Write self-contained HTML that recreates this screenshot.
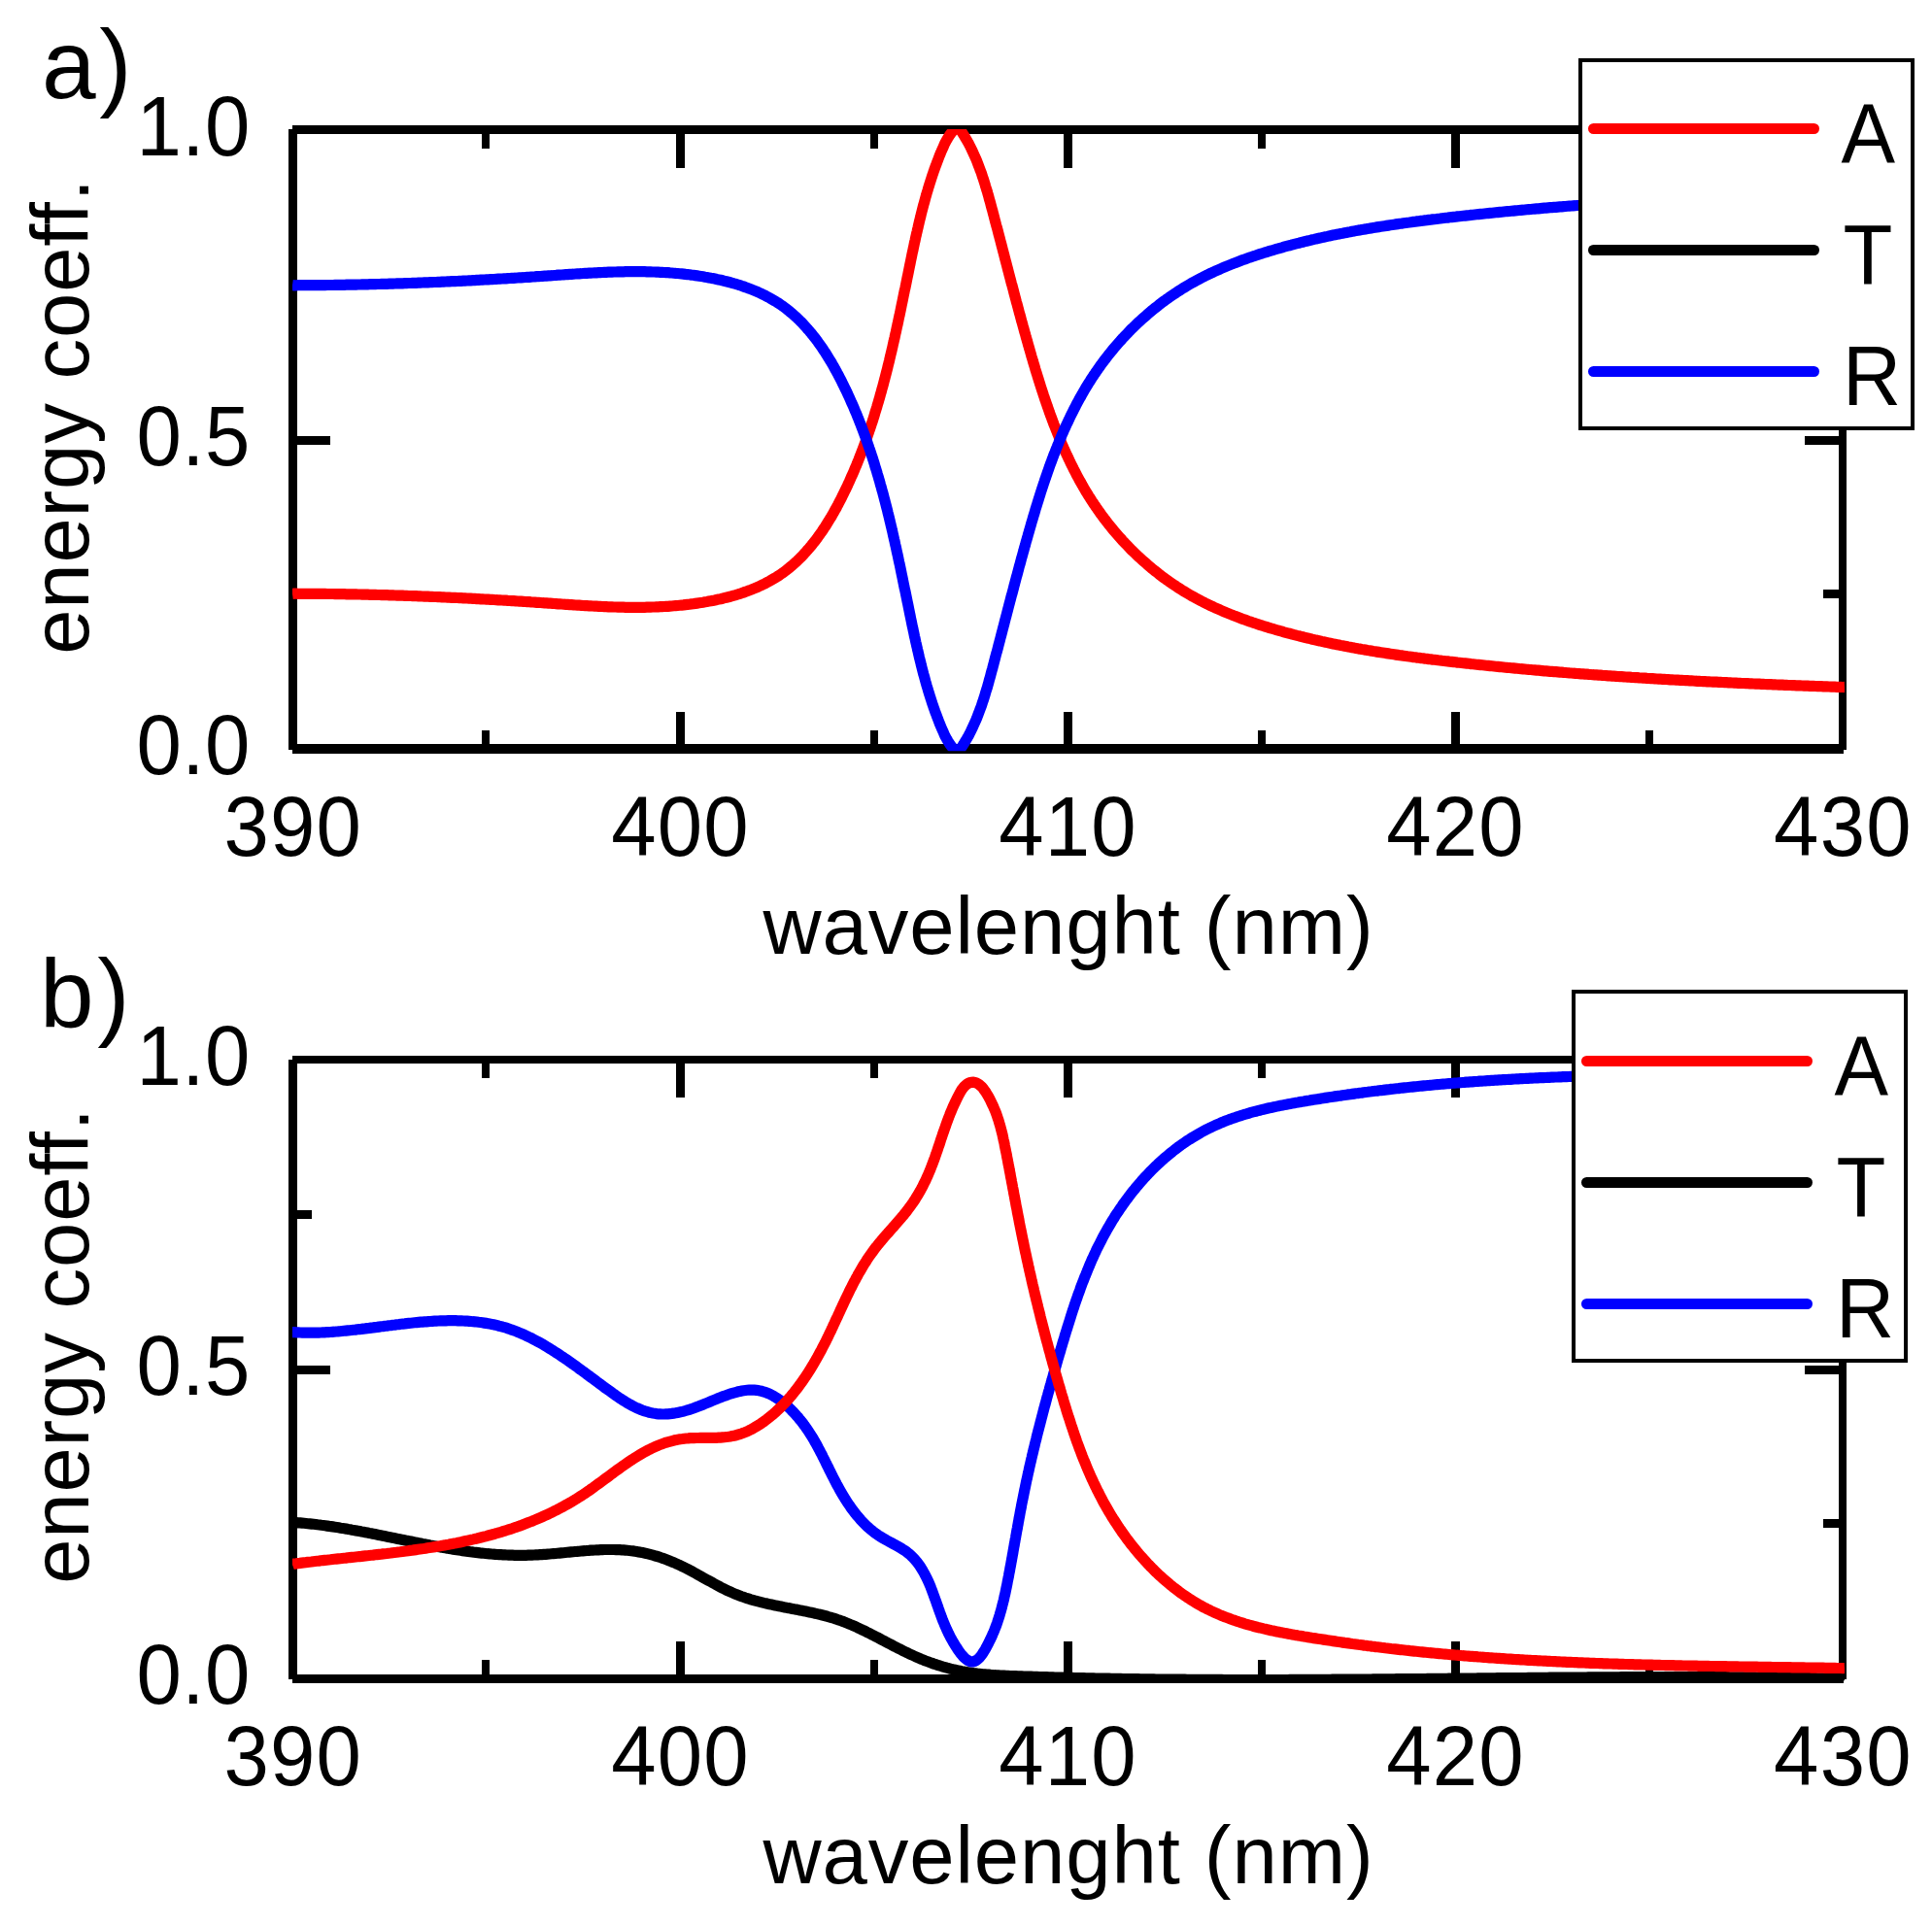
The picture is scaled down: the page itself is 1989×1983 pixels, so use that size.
<!DOCTYPE html>
<html lang="en">
<head>
<meta charset="utf-8">
<title>Energy coefficients vs wavelength</title>
<style>
html,body{margin:0;padding:0;background:#fff;}
body{width:1989px;height:1983px;overflow:hidden;}
svg{display:block;font-family:"Liberation Sans", sans-serif;fill:#000;}
</style>
</head>
<body>
<svg width="1989" height="1983" viewBox="0 0 1989 1983">
<rect width="1989" height="1983" fill="#fff"/>
<g fill="#000" shape-rendering="crispEdges">
<rect x="301" y="129" width="1597" height="9"/>
<rect x="301" y="766" width="1597" height="10"/>
<rect x="297" y="133" width="9" height="639"/>
<rect x="1893" y="133" width="8" height="639"/>
<rect x="696" y="733" width="9" height="38.5"/>
<rect x="696" y="133.5" width="9" height="39.5"/>
<rect x="1095" y="733" width="9" height="38.5"/>
<rect x="1095" y="133.5" width="9" height="39.5"/>
<rect x="1494" y="733" width="9" height="38.5"/>
<rect x="1494" y="133.5" width="9" height="39.5"/>
<rect x="496" y="752" width="8" height="19.5"/>
<rect x="496" y="133.5" width="8" height="19.5"/>
<rect x="896" y="752" width="8" height="19.5"/>
<rect x="896" y="133.5" width="8" height="19.5"/>
<rect x="1295" y="752" width="8" height="19.5"/>
<rect x="1295" y="133.5" width="8" height="19.5"/>
<rect x="1694" y="752" width="8" height="19.5"/>
<rect x="1694" y="133.5" width="8" height="19.5"/>
<rect x="301" y="289" width="20" height="9"/>
<rect x="1877" y="289" width="20" height="9"/>
<rect x="301" y="449" width="39" height="9"/>
<rect x="1858" y="449" width="39" height="9"/>
<rect x="301" y="607" width="20" height="9"/>
<rect x="1877" y="607" width="20" height="9"/>
</g>
<clipPath id="clipa"><rect x="301" y="133" width="1598" height="640.3"/></clipPath>
<g clip-path="url(#clipa)" fill="none" stroke-width="11.2" stroke-linejoin="miter" stroke-miterlimit="3" stroke-linecap="butt">
<path stroke="#ff0000" d="M301.0,611.5 L303.1,611.2 L305.0,611.2 L307.0,611.3 L309.0,611.3 L311.0,611.3 L313.0,611.3 L315.0,611.3 L316.9,611.3 L318.9,611.3 L320.9,611.3 L322.9,611.3 L324.9,611.3 L326.9,611.4 L328.9,611.4 L330.9,611.4 L332.8,611.4 L334.8,611.4 L336.8,611.5 L338.8,611.5 L340.8,611.5 L342.8,611.5 L344.8,611.6 L346.8,611.6 L348.8,611.6 L350.8,611.7 L352.8,611.7 L354.8,611.7 L356.7,611.8 L358.7,611.8 L360.7,611.8 L362.7,611.9 L364.7,611.9 L366.7,611.9 L368.7,612.0 L370.7,612.0 L372.7,612.1 L374.7,612.1 L376.7,612.2 L378.7,612.2 L380.7,612.3 L382.7,612.3 L384.7,612.4 L386.7,612.4 L388.7,612.5 L390.7,612.5 L392.7,612.6 L394.7,612.6 L396.7,612.7 L398.7,612.7 L400.7,612.8 L402.7,612.9 L404.7,612.9 L406.7,613.0 L408.7,613.1 L410.7,613.1 L412.7,613.2 L414.7,613.2 L416.7,613.3 L418.7,613.4 L420.7,613.5 L422.7,613.5 L424.7,613.6 L426.7,613.7 L428.7,613.7 L430.7,613.8 L432.7,613.9 L434.7,614.0 L436.7,614.1 L438.7,614.1 L440.7,614.2 L442.8,614.3 L444.8,614.4 L446.8,614.5 L448.8,614.5 L450.8,614.6 L452.8,614.7 L454.8,614.8 L456.8,614.9 L458.8,615.0 L460.8,615.1 L462.8,615.2 L464.8,615.3 L466.8,615.4 L468.8,615.4 L470.8,615.5 L472.8,615.6 L474.8,615.7 L476.8,615.8 L478.8,615.9 L480.8,616.0 L482.8,616.1 L484.8,616.2 L486.8,616.3 L488.8,616.4 L490.8,616.6 L492.8,616.7 L494.8,616.8 L496.8,616.9 L498.8,617.0 L500.8,617.1 L502.8,617.2 L504.8,617.3 L506.8,617.4 L508.8,617.5 L510.8,617.7 L512.8,617.8 L514.8,617.9 L516.8,618.0 L518.8,618.1 L520.8,618.2 L522.8,618.4 L524.8,618.5 L526.8,618.6 L528.8,618.7 L530.8,618.8 L532.8,619.0 L534.7,619.1 L536.7,619.2 L538.7,619.3 L540.7,619.5 L542.7,619.6 L544.7,619.7 L546.7,619.9 L548.7,620.0 L550.7,620.1 L552.7,620.3 L554.7,620.4 L556.7,620.5 L558.6,620.7 L560.6,620.8 L562.6,620.9 L564.6,621.1 L566.6,621.2 L568.6,621.3 L570.6,621.5 L572.5,621.6 L574.5,621.8 L576.5,621.9 L578.5,622.0 L580.5,622.2 L582.5,622.3 L584.5,622.4 L586.4,622.6 L588.4,622.7 L590.4,622.8 L592.4,623.0 L594.4,623.1 L596.4,623.2 L598.3,623.3 L600.3,623.5 L602.3,623.6 L604.3,623.7 L606.3,623.8 L608.2,623.9 L610.2,624.0 L612.2,624.1 L614.2,624.2 L616.2,624.3 L618.2,624.4 L620.1,624.5 L622.1,624.6 L624.1,624.7 L626.1,624.8 L628.1,624.8 L630.0,624.9 L632.0,625.0 L634.0,625.0 L636.0,625.1 L638.0,625.1 L640.0,625.2 L641.9,625.2 L643.9,625.3 L645.9,625.3 L647.9,625.3 L649.9,625.3 L651.9,625.3 L653.9,625.3 L655.8,625.3 L657.8,625.3 L659.8,625.3 L661.8,625.3 L663.8,625.3 L665.8,625.2 L667.8,625.2 L669.8,625.1 L671.8,625.0 L673.7,625.0 L675.7,624.9 L677.7,624.8 L679.7,624.7 L681.7,624.6 L683.7,624.5 L685.7,624.4 L687.7,624.3 L689.7,624.1 L691.7,624.0 L693.7,623.8 L695.7,623.6 L697.7,623.5 L699.7,623.3 L701.7,623.1 L703.7,622.9 L705.7,622.6 L707.7,622.4 L709.7,622.2 L711.7,621.9 L713.7,621.7 L715.7,621.4 L717.8,621.1 L719.8,620.8 L721.8,620.5 L723.8,620.2 L725.8,619.8 L727.8,619.5 L729.8,619.1 L731.8,618.7 L733.8,618.4 L735.8,618.0 L737.8,617.5 L739.8,617.1 L741.8,616.7 L743.8,616.2 L745.7,615.7 L747.7,615.2 L749.7,614.7 L751.7,614.2 L753.6,613.7 L755.6,613.1 L757.5,612.6 L759.4,612.0 L761.4,611.4 L763.3,610.7 L765.2,610.1 L767.1,609.4 L769.0,608.8 L770.9,608.1 L772.7,607.4 L774.6,606.6 L776.4,605.9 L778.3,605.1 L780.1,604.3 L781.9,603.5 L783.7,602.7 L785.5,601.8 L787.3,600.9 L789.0,600.0 L790.8,599.1 L792.5,598.2 L794.2,597.2 L795.9,596.2 L797.6,595.2 L799.2,594.2 L800.9,593.2 L802.5,592.1 L804.1,591.0 L805.7,589.9 L807.3,588.7 L808.9,587.6 L810.4,586.4 L811.9,585.2 L813.4,583.9 L814.9,582.7 L816.4,581.4 L817.8,580.1 L819.3,578.8 L820.7,577.5 L822.1,576.1 L823.5,574.7 L824.9,573.4 L826.3,572.0 L827.6,570.5 L828.9,569.1 L830.2,567.6 L831.5,566.1 L832.8,564.7 L834.1,563.1 L835.4,561.6 L836.6,560.1 L837.8,558.5 L839.1,557.0 L840.3,555.4 L841.5,553.8 L842.6,552.2 L843.8,550.5 L844.9,548.9 L846.1,547.3 L847.2,545.6 L848.3,543.9 L849.4,542.3 L850.5,540.6 L851.6,538.9 L852.6,537.2 L853.7,535.4 L854.7,533.7 L855.8,532.0 L856.8,530.2 L857.8,528.5 L858.8,526.7 L859.8,524.9 L860.8,523.2 L861.7,521.4 L862.7,519.6 L863.6,517.8 L864.6,516.0 L865.5,514.2 L866.4,512.4 L867.3,510.6 L868.2,508.8 L869.1,506.9 L870.0,505.1 L870.9,503.3 L871.7,501.5 L872.6,499.6 L873.4,497.8 L874.3,496.0 L875.1,494.1 L875.9,492.3 L876.7,490.4 L877.6,488.6 L878.4,486.8 L879.2,484.9 L879.9,483.1 L880.7,481.2 L881.5,479.4 L882.3,477.5 L883.0,475.7 L883.8,473.8 L884.5,471.9 L885.2,470.1 L886.0,468.2 L886.7,466.4 L887.4,464.5 L888.1,462.6 L888.8,460.8 L889.5,458.9 L890.2,457.0 L890.9,455.1 L891.5,453.3 L892.2,451.4 L892.9,449.5 L893.5,447.6 L894.2,445.7 L894.8,443.8 L895.5,442.0 L896.1,440.1 L896.7,438.2 L897.3,436.3 L898.0,434.4 L898.6,432.5 L899.2,430.6 L899.8,428.7 L900.4,426.8 L900.9,424.9 L901.5,423.0 L902.1,421.1 L902.7,419.2 L903.2,417.3 L903.8,415.4 L904.4,413.5 L904.9,411.6 L905.5,409.7 L906.0,407.8 L906.5,405.8 L907.1,403.9 L907.6,402.0 L908.1,400.1 L908.7,398.2 L909.2,396.3 L909.7,394.3 L910.2,392.4 L910.7,390.5 L911.2,388.6 L911.7,386.6 L912.2,384.7 L912.7,382.8 L913.2,380.8 L913.7,378.9 L914.1,377.0 L914.6,375.1 L915.1,373.1 L915.6,371.2 L916.0,369.2 L916.5,367.3 L916.9,365.4 L917.4,363.4 L917.9,361.5 L918.3,359.6 L918.8,357.6 L919.2,355.7 L919.6,353.7 L920.1,351.8 L920.5,349.8 L921.0,347.9 L921.4,345.9 L921.8,344.0 L922.3,342.0 L922.7,340.1 L923.1,338.1 L923.5,336.2 L924.0,334.2 L924.4,332.3 L924.8,330.3 L925.2,328.4 L925.6,326.4 L926.1,324.5 L926.5,322.5 L926.9,320.6 L927.3,318.6 L927.7,316.6 L928.1,314.7 L928.5,312.7 L928.9,310.8 L929.3,308.8 L929.7,306.8 L930.1,304.9 L930.5,302.9 L930.9,301.0 L931.3,299.0 L931.8,297.0 L932.2,295.1 L932.6,293.1 L933.0,291.1 L933.4,289.2 L933.8,287.2 L934.2,285.2 L934.6,283.3 L935.0,281.3 L935.4,279.3 L935.8,277.4 L936.2,275.4 L936.6,273.4 L937.0,271.5 L937.4,269.5 L937.8,267.5 L938.2,265.6 L938.6,263.6 L939.0,261.6 L939.4,259.7 L939.9,257.7 L940.3,255.7 L940.7,253.8 L941.1,251.8 L941.5,249.8 L942.0,247.9 L942.4,245.9 L942.8,243.9 L943.3,242.0 L943.7,240.0 L944.2,238.1 L944.6,236.1 L945.1,234.2 L945.5,232.2 L946.0,230.2 L946.4,228.3 L946.9,226.4 L947.4,224.4 L947.9,222.5 L948.3,220.5 L948.8,218.6 L949.3,216.6 L949.8,214.7 L950.3,212.8 L950.8,210.8 L951.4,208.9 L951.9,207.0 L952.4,205.1 L952.9,203.2 L953.5,201.2 L954.0,199.3 L954.6,197.4 L955.2,195.5 L955.7,193.6 L956.3,191.7 L956.9,189.8 L957.5,187.9 L958.1,186.0 L958.7,184.1 L959.3,182.2 L959.9,180.4 L960.6,178.5 L961.2,176.6 L961.9,174.7 L962.5,172.9 L963.2,171.0 L963.9,169.2 L964.6,167.3 L965.3,165.5 L966.0,163.6 L966.7,161.8 L967.4,159.9 L968.2,158.1 L968.9,156.3 L969.7,154.5 L970.5,152.7 L971.3,150.9 L972.1,149.1 L972.9,147.3 L973.8,145.6 L974.8,143.8 L975.8,142.1 L976.8,140.5 L977.9,138.8 L979.1,137.2 L980.3,135.6 L981.6,134.1 L983.0,132.6 L985.1,131.5 L987.7,132.2 L988.8,133.9 L989.9,135.5 L991.0,137.2 L992.1,138.9 L993.1,140.6 L994.1,142.3 L995.1,144.0 L996.1,145.8 L997.1,147.5 L998.0,149.3 L998.9,151.0 L999.8,152.8 L1000.6,154.6 L1001.5,156.4 L1002.3,158.2 L1003.1,160.0 L1003.9,161.8 L1004.7,163.6 L1005.5,165.4 L1006.2,167.3 L1006.9,169.1 L1007.6,171.0 L1008.3,172.8 L1009.0,174.7 L1009.7,176.5 L1010.4,178.4 L1011.0,180.3 L1011.6,182.2 L1012.3,184.1 L1012.9,186.0 L1013.5,187.9 L1014.1,189.8 L1014.6,191.7 L1015.2,193.6 L1015.8,195.5 L1016.4,197.4 L1016.9,199.3 L1017.5,201.2 L1018.0,203.2 L1018.5,205.1 L1019.1,207.0 L1019.6,208.9 L1020.1,210.9 L1020.6,212.8 L1021.1,214.7 L1021.7,216.6 L1022.2,218.6 L1022.7,220.5 L1023.2,222.4 L1023.7,224.4 L1024.2,226.3 L1024.7,228.2 L1025.2,230.1 L1025.7,232.1 L1026.3,234.0 L1026.8,235.9 L1027.3,237.8 L1027.8,239.8 L1028.3,241.7 L1028.8,243.6 L1029.3,245.5 L1029.8,247.5 L1030.3,249.4 L1030.8,251.3 L1031.3,253.2 L1031.8,255.2 L1032.3,257.1 L1032.8,259.0 L1033.3,260.9 L1033.8,262.8 L1034.3,264.8 L1034.8,266.7 L1035.3,268.6 L1035.8,270.5 L1036.3,272.4 L1036.8,274.4 L1037.3,276.3 L1037.8,278.2 L1038.3,280.1 L1038.8,282.1 L1039.3,284.0 L1039.8,285.9 L1040.3,287.8 L1040.8,289.7 L1041.3,291.7 L1041.9,293.6 L1042.4,295.5 L1042.9,297.4 L1043.4,299.3 L1043.9,301.3 L1044.4,303.2 L1044.9,305.1 L1045.4,307.0 L1045.9,308.9 L1046.4,310.9 L1047.0,312.8 L1047.5,314.7 L1048.0,316.6 L1048.5,318.5 L1049.0,320.5 L1049.5,322.4 L1050.1,324.3 L1050.6,326.2 L1051.1,328.2 L1051.6,330.1 L1052.2,332.0 L1052.7,333.9 L1053.2,335.8 L1053.8,337.8 L1054.3,339.7 L1054.8,341.6 L1055.4,343.5 L1055.9,345.5 L1056.4,347.4 L1057.0,349.3 L1057.5,351.2 L1058.1,353.2 L1058.6,355.1 L1059.2,357.0 L1059.7,358.9 L1060.3,360.9 L1060.8,362.8 L1061.4,364.7 L1061.9,366.7 L1062.5,368.6 L1063.1,370.5 L1063.6,372.4 L1064.2,374.4 L1064.8,376.3 L1065.4,378.2 L1065.9,380.2 L1066.5,382.1 L1067.1,384.0 L1067.7,385.9 L1068.3,387.9 L1068.9,389.8 L1069.5,391.7 L1070.1,393.6 L1070.7,395.5 L1071.3,397.5 L1071.9,399.4 L1072.5,401.3 L1073.2,403.2 L1073.8,405.1 L1074.4,407.0 L1075.1,409.0 L1075.7,410.9 L1076.4,412.8 L1077.0,414.7 L1077.7,416.6 L1078.3,418.5 L1079.0,420.4 L1079.7,422.3 L1080.3,424.2 L1081.0,426.1 L1081.7,428.0 L1082.4,429.8 L1083.1,431.7 L1083.8,433.6 L1084.5,435.5 L1085.2,437.4 L1086.0,439.2 L1086.7,441.1 L1087.4,443.0 L1088.2,444.8 L1088.9,446.7 L1089.7,448.5 L1090.4,450.4 L1091.2,452.3 L1092.0,454.1 L1092.7,455.9 L1093.5,457.8 L1094.3,459.6 L1095.1,461.4 L1095.9,463.3 L1096.8,465.1 L1097.6,466.9 L1098.4,468.7 L1099.3,470.5 L1100.1,472.3 L1101.0,474.1 L1101.8,475.9 L1102.7,477.7 L1103.6,479.5 L1104.5,481.3 L1105.4,483.1 L1106.3,484.8 L1107.2,486.6 L1108.1,488.4 L1109.0,490.1 L1110.0,491.9 L1110.9,493.6 L1111.9,495.4 L1112.9,497.1 L1113.8,498.8 L1114.8,500.5 L1115.8,502.3 L1116.8,504.0 L1117.8,505.7 L1118.9,507.4 L1119.9,509.1 L1120.9,510.8 L1122.0,512.4 L1123.1,514.1 L1124.1,515.8 L1125.2,517.4 L1126.3,519.1 L1127.4,520.7 L1128.5,522.4 L1129.7,524.0 L1130.8,525.6 L1132.0,527.3 L1133.1,528.9 L1134.3,530.5 L1135.5,532.1 L1136.7,533.7 L1137.9,535.2 L1139.1,536.8 L1140.3,538.4 L1141.5,539.9 L1142.8,541.5 L1144.0,543.0 L1145.3,544.6 L1146.5,546.1 L1147.8,547.6 L1149.1,549.1 L1150.4,550.6 L1151.7,552.1 L1153.0,553.6 L1154.4,555.1 L1155.7,556.6 L1157.1,558.0 L1158.4,559.5 L1159.8,560.9 L1161.2,562.3 L1162.5,563.8 L1163.9,565.2 L1165.3,566.6 L1166.8,568.0 L1168.2,569.4 L1169.6,570.8 L1171.0,572.1 L1172.5,573.5 L1174.0,574.8 L1175.4,576.2 L1176.9,577.5 L1178.4,578.8 L1179.9,580.1 L1181.4,581.4 L1182.9,582.7 L1184.4,584.0 L1185.9,585.3 L1187.5,586.5 L1189.0,587.8 L1190.6,589.0 L1192.1,590.2 L1193.7,591.5 L1195.3,592.7 L1196.9,593.9 L1198.5,595.1 L1200.1,596.2 L1201.7,597.4 L1203.3,598.5 L1204.9,599.7 L1206.6,600.8 L1208.2,601.9 L1209.9,603.0 L1211.5,604.1 L1213.2,605.2 L1214.9,606.3 L1216.6,607.4 L1218.2,608.4 L1219.9,609.4 L1221.7,610.5 L1223.4,611.5 L1225.1,612.5 L1226.8,613.5 L1228.6,614.4 L1230.3,615.4 L1232.1,616.4 L1233.8,617.3 L1235.6,618.2 L1237.3,619.1 L1239.1,620.1 L1240.9,621.0 L1242.7,621.8 L1244.5,622.7 L1246.3,623.6 L1248.1,624.4 L1249.9,625.3 L1251.7,626.1 L1253.6,626.9 L1255.4,627.7 L1257.2,628.5 L1259.1,629.3 L1260.9,630.1 L1262.8,630.9 L1264.6,631.6 L1266.5,632.4 L1268.4,633.1 L1270.2,633.9 L1272.1,634.6 L1274.0,635.3 L1275.9,636.0 L1277.7,636.7 L1279.6,637.4 L1281.5,638.1 L1283.4,638.8 L1285.3,639.5 L1287.2,640.1 L1289.1,640.8 L1291.0,641.4 L1293.0,642.0 L1294.9,642.7 L1296.8,643.3 L1298.7,643.9 L1300.6,644.5 L1302.5,645.1 L1304.5,645.7 L1306.4,646.3 L1308.3,646.9 L1310.3,647.4 L1312.2,648.0 L1314.1,648.6 L1316.1,649.1 L1318.0,649.7 L1319.9,650.2 L1321.9,650.8 L1323.8,651.3 L1325.7,651.8 L1327.7,652.3 L1329.6,652.8 L1331.6,653.4 L1333.5,653.9 L1335.4,654.4 L1337.4,654.8 L1339.3,655.3 L1341.3,655.8 L1343.2,656.3 L1345.2,656.8 L1347.1,657.2 L1349.0,657.7 L1351.0,658.2 L1352.9,658.6 L1354.9,659.1 L1356.8,659.5 L1358.8,659.9 L1360.7,660.4 L1362.7,660.8 L1364.6,661.2 L1366.6,661.6 L1368.5,662.1 L1370.5,662.5 L1372.4,662.9 L1374.4,663.3 L1376.4,663.7 L1378.3,664.1 L1380.3,664.5 L1382.2,664.8 L1384.2,665.2 L1386.1,665.6 L1388.1,666.0 L1390.0,666.3 L1392.0,666.7 L1394.0,667.1 L1395.9,667.4 L1397.9,667.8 L1399.8,668.1 L1401.8,668.5 L1403.8,668.8 L1405.7,669.1 L1407.7,669.5 L1409.7,669.8 L1411.6,670.1 L1413.6,670.5 L1415.6,670.8 L1417.5,671.1 L1419.5,671.4 L1421.5,671.7 L1423.4,672.0 L1425.4,672.3 L1427.4,672.6 L1429.3,672.9 L1431.3,673.2 L1433.3,673.5 L1435.2,673.8 L1437.2,674.1 L1439.2,674.4 L1441.1,674.7 L1443.1,674.9 L1445.1,675.2 L1447.1,675.5 L1449.0,675.8 L1451.0,676.0 L1453.0,676.3 L1454.9,676.6 L1456.9,676.8 L1458.9,677.1 L1460.9,677.3 L1462.8,677.6 L1464.8,677.8 L1466.8,678.1 L1468.8,678.3 L1470.7,678.6 L1472.7,678.8 L1474.7,679.1 L1476.7,679.3 L1478.7,679.5 L1480.6,679.8 L1482.6,680.0 L1484.6,680.3 L1486.6,680.5 L1488.5,680.7 L1490.5,680.9 L1492.5,681.2 L1494.5,681.4 L1496.5,681.6 L1498.4,681.8 L1500.4,682.1 L1502.4,682.3 L1504.4,682.5 L1506.4,682.7 L1508.4,682.9 L1510.3,683.1 L1512.3,683.3 L1514.3,683.6 L1516.3,683.8 L1518.3,684.0 L1520.3,684.2 L1522.2,684.4 L1524.2,684.6 L1526.2,684.8 L1528.2,685.0 L1530.2,685.2 L1532.2,685.4 L1534.1,685.6 L1536.1,685.8 L1538.1,686.0 L1540.1,686.2 L1542.1,686.4 L1544.1,686.6 L1546.1,686.8 L1548.0,687.0 L1550.0,687.2 L1552.0,687.4 L1554.0,687.5 L1556.0,687.7 L1558.0,687.9 L1560.0,688.1 L1562.0,688.3 L1563.9,688.5 L1565.9,688.7 L1567.9,688.8 L1569.9,689.0 L1571.9,689.2 L1573.9,689.4 L1575.9,689.5 L1577.9,689.7 L1579.9,689.9 L1581.9,690.1 L1583.8,690.2 L1585.8,690.4 L1587.8,690.6 L1589.8,690.8 L1591.8,690.9 L1593.8,691.1 L1595.8,691.3 L1597.8,691.4 L1599.8,691.6 L1601.8,691.7 L1603.8,691.9 L1605.8,692.1 L1607.7,692.2 L1609.7,692.4 L1611.7,692.5 L1613.7,692.7 L1615.7,692.9 L1617.7,693.0 L1619.7,693.2 L1621.7,693.3 L1623.7,693.5 L1625.7,693.6 L1627.7,693.8 L1629.7,693.9 L1631.7,694.1 L1633.7,694.2 L1635.7,694.4 L1637.6,694.5 L1639.6,694.7 L1641.6,694.8 L1643.6,694.9 L1645.6,695.1 L1647.6,695.2 L1649.6,695.4 L1651.6,695.5 L1653.6,695.6 L1655.6,695.8 L1657.6,695.9 L1659.6,696.1 L1661.6,696.2 L1663.6,696.3 L1665.6,696.5 L1667.6,696.6 L1669.6,696.7 L1671.6,696.8 L1673.6,697.0 L1675.6,697.1 L1677.6,697.2 L1679.5,697.4 L1681.5,697.5 L1683.5,697.6 L1685.5,697.7 L1687.5,697.9 L1689.5,698.0 L1691.5,698.1 L1693.5,698.2 L1695.5,698.4 L1697.5,698.5 L1699.5,698.6 L1701.5,698.7 L1703.5,698.8 L1705.5,699.0 L1707.5,699.1 L1709.5,699.2 L1711.5,699.3 L1713.5,699.4 L1715.5,699.5 L1717.5,699.6 L1719.5,699.8 L1721.5,699.9 L1723.5,700.0 L1725.5,700.1 L1727.5,700.2 L1729.5,700.3 L1731.5,700.4 L1733.5,700.5 L1735.4,700.6 L1737.4,700.7 L1739.4,700.8 L1741.4,700.9 L1743.4,701.0 L1745.4,701.2 L1747.4,701.3 L1749.4,701.4 L1751.4,701.5 L1753.4,701.6 L1755.4,701.7 L1757.4,701.8 L1759.4,701.9 L1761.4,702.0 L1763.4,702.1 L1765.4,702.2 L1767.4,702.2 L1769.4,702.3 L1771.4,702.4 L1773.4,702.5 L1775.4,702.6 L1777.4,702.7 L1779.4,702.8 L1781.4,702.9 L1783.4,703.0 L1785.4,703.1 L1787.4,703.2 L1789.4,703.3 L1791.3,703.4 L1793.3,703.5 L1795.3,703.5 L1797.3,703.6 L1799.3,703.7 L1801.3,703.8 L1803.3,703.9 L1805.3,704.0 L1807.3,704.1 L1809.3,704.1 L1811.3,704.2 L1813.3,704.3 L1815.3,704.4 L1817.3,704.5 L1819.3,704.6 L1821.3,704.7 L1823.3,704.7 L1825.3,704.8 L1827.3,704.9 L1829.2,705.0 L1831.2,705.1 L1833.2,705.1 L1835.2,705.2 L1837.2,705.3 L1839.2,705.4 L1841.2,705.5 L1843.2,705.5 L1845.2,705.6 L1847.2,705.7 L1849.2,705.8 L1851.2,705.8 L1853.2,705.9 L1855.2,706.0 L1857.1,706.1 L1859.1,706.1 L1861.1,706.2 L1863.1,706.3 L1865.1,706.4 L1867.1,706.4 L1869.1,706.5 L1871.1,706.6 L1873.1,706.6 L1875.1,706.7 L1877.1,706.8 L1879.0,706.9 L1881.0,706.9 L1883.0,707.0 L1885.0,707.1 L1887.0,707.1 L1889.0,707.2 L1891.0,707.3 L1893.0,707.3 L1895.0,707.4 L1896.9,707.5 L1899.0,707.4"/>
<path stroke="#0000ff" d="M301.0,293.5 L303.1,293.8 L305.0,293.8 L307.0,293.7 L309.0,293.7 L311.0,293.7 L313.0,293.7 L315.0,293.7 L316.9,293.7 L318.9,293.7 L320.9,293.7 L322.9,293.7 L324.9,293.7 L326.9,293.6 L328.9,293.6 L330.9,293.6 L332.8,293.6 L334.8,293.6 L336.8,293.5 L338.8,293.5 L340.8,293.5 L342.8,293.5 L344.8,293.4 L346.8,293.4 L348.8,293.4 L350.8,293.3 L352.8,293.3 L354.8,293.3 L356.7,293.2 L358.7,293.2 L360.7,293.2 L362.7,293.1 L364.7,293.1 L366.7,293.1 L368.7,293.0 L370.7,293.0 L372.7,292.9 L374.7,292.9 L376.7,292.8 L378.7,292.8 L380.7,292.7 L382.7,292.7 L384.7,292.6 L386.7,292.6 L388.7,292.5 L390.7,292.5 L392.7,292.4 L394.7,292.4 L396.7,292.3 L398.7,292.3 L400.7,292.2 L402.7,292.1 L404.7,292.1 L406.7,292.0 L408.7,291.9 L410.7,291.9 L412.7,291.8 L414.7,291.8 L416.7,291.7 L418.7,291.6 L420.7,291.5 L422.7,291.5 L424.7,291.4 L426.7,291.3 L428.7,291.3 L430.7,291.2 L432.7,291.1 L434.7,291.0 L436.7,290.9 L438.7,290.9 L440.7,290.8 L442.8,290.7 L444.8,290.6 L446.8,290.5 L448.8,290.5 L450.8,290.4 L452.8,290.3 L454.8,290.2 L456.8,290.1 L458.8,290.0 L460.8,289.9 L462.8,289.8 L464.8,289.7 L466.8,289.6 L468.8,289.6 L470.8,289.5 L472.8,289.4 L474.8,289.3 L476.8,289.2 L478.8,289.1 L480.8,289.0 L482.8,288.9 L484.8,288.8 L486.8,288.7 L488.8,288.6 L490.8,288.4 L492.8,288.3 L494.8,288.2 L496.8,288.1 L498.8,288.0 L500.8,287.9 L502.8,287.8 L504.8,287.7 L506.8,287.6 L508.8,287.5 L510.8,287.3 L512.8,287.2 L514.8,287.1 L516.8,287.0 L518.8,286.9 L520.8,286.8 L522.8,286.6 L524.8,286.5 L526.8,286.4 L528.8,286.3 L530.8,286.2 L532.8,286.0 L534.7,285.9 L536.7,285.8 L538.7,285.7 L540.7,285.5 L542.7,285.4 L544.7,285.3 L546.7,285.1 L548.7,285.0 L550.7,284.9 L552.7,284.7 L554.7,284.6 L556.7,284.5 L558.6,284.3 L560.6,284.2 L562.6,284.1 L564.6,283.9 L566.6,283.8 L568.6,283.7 L570.6,283.5 L572.5,283.4 L574.5,283.2 L576.5,283.1 L578.5,283.0 L580.5,282.8 L582.5,282.7 L584.5,282.6 L586.4,282.4 L588.4,282.3 L590.4,282.2 L592.4,282.0 L594.4,281.9 L596.4,281.8 L598.3,281.7 L600.3,281.5 L602.3,281.4 L604.3,281.3 L606.3,281.2 L608.2,281.1 L610.2,281.0 L612.2,280.9 L614.2,280.8 L616.2,280.7 L618.2,280.6 L620.1,280.5 L622.1,280.4 L624.1,280.3 L626.1,280.2 L628.1,280.2 L630.0,280.1 L632.0,280.0 L634.0,280.0 L636.0,279.9 L638.0,279.9 L640.0,279.8 L641.9,279.8 L643.9,279.7 L645.9,279.7 L647.9,279.7 L649.9,279.7 L651.9,279.7 L653.9,279.7 L655.8,279.7 L657.8,279.7 L659.8,279.7 L661.8,279.7 L663.8,279.7 L665.8,279.8 L667.8,279.8 L669.8,279.9 L671.8,280.0 L673.7,280.0 L675.7,280.1 L677.7,280.2 L679.7,280.3 L681.7,280.4 L683.7,280.5 L685.7,280.6 L687.7,280.7 L689.7,280.9 L691.7,281.0 L693.7,281.2 L695.7,281.4 L697.7,281.5 L699.7,281.7 L701.7,281.9 L703.7,282.1 L705.7,282.4 L707.7,282.6 L709.7,282.8 L711.7,283.1 L713.7,283.3 L715.7,283.6 L717.8,283.9 L719.8,284.2 L721.8,284.5 L723.8,284.8 L725.8,285.2 L727.8,285.5 L729.8,285.9 L731.8,286.3 L733.8,286.6 L735.8,287.0 L737.8,287.5 L739.8,287.9 L741.8,288.3 L743.8,288.8 L745.7,289.3 L747.7,289.8 L749.7,290.3 L751.7,290.8 L753.6,291.3 L755.6,291.9 L757.5,292.4 L759.4,293.0 L761.4,293.6 L763.3,294.3 L765.2,294.9 L767.1,295.6 L769.0,296.2 L770.9,296.9 L772.7,297.6 L774.6,298.4 L776.4,299.1 L778.3,299.9 L780.1,300.7 L781.9,301.5 L783.7,302.3 L785.5,303.2 L787.3,304.1 L789.0,305.0 L790.8,305.9 L792.5,306.8 L794.2,307.8 L795.9,308.8 L797.6,309.8 L799.2,310.8 L800.9,311.8 L802.5,312.9 L804.1,314.0 L805.7,315.1 L807.3,316.3 L808.9,317.4 L810.4,318.6 L811.9,319.8 L813.4,321.1 L814.9,322.3 L816.4,323.6 L817.8,324.9 L819.3,326.2 L820.7,327.5 L822.1,328.9 L823.5,330.3 L824.9,331.6 L826.3,333.0 L827.6,334.5 L828.9,335.9 L830.2,337.4 L831.5,338.9 L832.8,340.3 L834.1,341.9 L835.4,343.4 L836.6,344.9 L837.8,346.5 L839.1,348.0 L840.3,349.6 L841.5,351.2 L842.6,352.8 L843.8,354.5 L844.9,356.1 L846.1,357.7 L847.2,359.4 L848.3,361.1 L849.4,362.7 L850.5,364.4 L851.6,366.1 L852.6,367.8 L853.7,369.6 L854.7,371.3 L855.8,373.0 L856.8,374.8 L857.8,376.5 L858.8,378.3 L859.8,380.1 L860.8,381.8 L861.7,383.6 L862.7,385.4 L863.6,387.2 L864.6,389.0 L865.5,390.8 L866.4,392.6 L867.3,394.4 L868.2,396.2 L869.1,398.1 L870.0,399.9 L870.9,401.7 L871.7,403.5 L872.6,405.4 L873.4,407.2 L874.3,409.0 L875.1,410.9 L875.9,412.7 L876.7,414.6 L877.6,416.4 L878.4,418.2 L879.2,420.1 L879.9,421.9 L880.7,423.8 L881.5,425.6 L882.3,427.5 L883.0,429.3 L883.8,431.2 L884.5,433.1 L885.2,434.9 L886.0,436.8 L886.7,438.6 L887.4,440.5 L888.1,442.4 L888.8,444.2 L889.5,446.1 L890.2,448.0 L890.9,449.9 L891.5,451.7 L892.2,453.6 L892.9,455.5 L893.5,457.4 L894.2,459.3 L894.8,461.2 L895.5,463.0 L896.1,464.9 L896.7,466.8 L897.3,468.7 L898.0,470.6 L898.6,472.5 L899.2,474.4 L899.8,476.3 L900.4,478.2 L900.9,480.1 L901.5,482.0 L902.1,483.9 L902.7,485.8 L903.2,487.7 L903.8,489.6 L904.4,491.5 L904.9,493.4 L905.5,495.3 L906.0,497.2 L906.5,499.2 L907.1,501.1 L907.6,503.0 L908.1,504.9 L908.7,506.8 L909.2,508.7 L909.7,510.7 L910.2,512.6 L910.7,514.5 L911.2,516.4 L911.7,518.4 L912.2,520.3 L912.7,522.2 L913.2,524.2 L913.7,526.1 L914.1,528.0 L914.6,529.9 L915.1,531.9 L915.6,533.8 L916.0,535.8 L916.5,537.7 L916.9,539.6 L917.4,541.6 L917.9,543.5 L918.3,545.4 L918.8,547.4 L919.2,549.3 L919.6,551.3 L920.1,553.2 L920.5,555.2 L921.0,557.1 L921.4,559.1 L921.8,561.0 L922.3,563.0 L922.7,564.9 L923.1,566.9 L923.5,568.8 L924.0,570.8 L924.4,572.7 L924.8,574.7 L925.2,576.6 L925.6,578.6 L926.1,580.5 L926.5,582.5 L926.9,584.4 L927.3,586.4 L927.7,588.4 L928.1,590.3 L928.5,592.3 L928.9,594.2 L929.3,596.2 L929.7,598.2 L930.1,600.1 L930.5,602.1 L930.9,604.0 L931.3,606.0 L931.8,608.0 L932.2,609.9 L932.6,611.9 L933.0,613.9 L933.4,615.8 L933.8,617.8 L934.2,619.8 L934.6,621.7 L935.0,623.7 L935.4,625.7 L935.8,627.6 L936.2,629.6 L936.6,631.6 L937.0,633.5 L937.4,635.5 L937.8,637.5 L938.2,639.4 L938.6,641.4 L939.0,643.4 L939.4,645.3 L939.9,647.3 L940.3,649.3 L940.7,651.2 L941.1,653.2 L941.5,655.2 L942.0,657.1 L942.4,659.1 L942.8,661.1 L943.3,663.0 L943.7,665.0 L944.2,666.9 L944.6,668.9 L945.1,670.8 L945.5,672.8 L946.0,674.8 L946.4,676.7 L946.9,678.6 L947.4,680.6 L947.9,682.5 L948.3,684.5 L948.8,686.4 L949.3,688.4 L949.8,690.3 L950.3,692.2 L950.8,694.2 L951.4,696.1 L951.9,698.0 L952.4,699.9 L952.9,701.8 L953.5,703.8 L954.0,705.7 L954.6,707.6 L955.2,709.5 L955.7,711.4 L956.3,713.3 L956.9,715.2 L957.5,717.1 L958.1,719.0 L958.7,720.9 L959.3,722.8 L959.9,724.6 L960.6,726.5 L961.2,728.4 L961.9,730.3 L962.5,732.1 L963.2,734.0 L963.9,735.8 L964.6,737.7 L965.3,739.5 L966.0,741.4 L966.7,743.2 L967.4,745.1 L968.2,746.9 L968.9,748.7 L969.7,750.5 L970.5,752.3 L971.3,754.1 L972.1,755.9 L972.9,757.7 L973.8,759.4 L974.8,761.2 L975.8,762.9 L976.8,764.5 L977.9,766.2 L979.1,767.8 L980.3,769.4 L981.6,770.9 L983.0,772.4 L985.1,773.5 L987.7,772.8 L988.8,771.1 L989.9,769.5 L991.0,767.8 L992.1,766.1 L993.1,764.4 L994.1,762.7 L995.1,761.0 L996.1,759.2 L997.1,757.5 L998.0,755.7 L998.9,754.0 L999.8,752.2 L1000.6,750.4 L1001.5,748.6 L1002.3,746.8 L1003.1,745.0 L1003.9,743.2 L1004.7,741.4 L1005.5,739.6 L1006.2,737.7 L1006.9,735.9 L1007.6,734.0 L1008.3,732.2 L1009.0,730.3 L1009.7,728.5 L1010.4,726.6 L1011.0,724.7 L1011.6,722.8 L1012.3,720.9 L1012.9,719.0 L1013.5,717.1 L1014.1,715.2 L1014.6,713.3 L1015.2,711.4 L1015.8,709.5 L1016.4,707.6 L1016.9,705.7 L1017.5,703.8 L1018.0,701.8 L1018.5,699.9 L1019.1,698.0 L1019.6,696.1 L1020.1,694.1 L1020.6,692.2 L1021.1,690.3 L1021.7,688.4 L1022.2,686.4 L1022.7,684.5 L1023.2,682.6 L1023.7,680.6 L1024.2,678.7 L1024.7,676.8 L1025.2,674.9 L1025.7,672.9 L1026.3,671.0 L1026.8,669.1 L1027.3,667.2 L1027.8,665.2 L1028.3,663.3 L1028.8,661.4 L1029.3,659.5 L1029.8,657.5 L1030.3,655.6 L1030.8,653.7 L1031.3,651.8 L1031.8,649.8 L1032.3,647.9 L1032.8,646.0 L1033.3,644.1 L1033.8,642.2 L1034.3,640.2 L1034.8,638.3 L1035.3,636.4 L1035.8,634.5 L1036.3,632.6 L1036.8,630.6 L1037.3,628.7 L1037.8,626.8 L1038.3,624.9 L1038.8,622.9 L1039.3,621.0 L1039.8,619.1 L1040.3,617.2 L1040.8,615.3 L1041.3,613.3 L1041.9,611.4 L1042.4,609.5 L1042.9,607.6 L1043.4,605.7 L1043.9,603.7 L1044.4,601.8 L1044.9,599.9 L1045.4,598.0 L1045.9,596.1 L1046.4,594.1 L1047.0,592.2 L1047.5,590.3 L1048.0,588.4 L1048.5,586.5 L1049.0,584.5 L1049.5,582.6 L1050.1,580.7 L1050.6,578.8 L1051.1,576.8 L1051.6,574.9 L1052.2,573.0 L1052.7,571.1 L1053.2,569.2 L1053.8,567.2 L1054.3,565.3 L1054.8,563.4 L1055.4,561.5 L1055.9,559.5 L1056.4,557.6 L1057.0,555.7 L1057.5,553.8 L1058.1,551.8 L1058.6,549.9 L1059.2,548.0 L1059.7,546.1 L1060.3,544.1 L1060.8,542.2 L1061.4,540.3 L1061.9,538.3 L1062.5,536.4 L1063.1,534.5 L1063.6,532.6 L1064.2,530.6 L1064.8,528.7 L1065.4,526.8 L1065.9,524.8 L1066.5,522.9 L1067.1,521.0 L1067.7,519.1 L1068.3,517.1 L1068.9,515.2 L1069.5,513.3 L1070.1,511.4 L1070.7,509.5 L1071.3,507.5 L1071.9,505.6 L1072.5,503.7 L1073.2,501.8 L1073.8,499.9 L1074.4,498.0 L1075.1,496.0 L1075.7,494.1 L1076.4,492.2 L1077.0,490.3 L1077.7,488.4 L1078.3,486.5 L1079.0,484.6 L1079.7,482.7 L1080.3,480.8 L1081.0,478.9 L1081.7,477.0 L1082.4,475.2 L1083.1,473.3 L1083.8,471.4 L1084.5,469.5 L1085.2,467.6 L1086.0,465.8 L1086.7,463.9 L1087.4,462.0 L1088.2,460.2 L1088.9,458.3 L1089.7,456.5 L1090.4,454.6 L1091.2,452.7 L1092.0,450.9 L1092.7,449.1 L1093.5,447.2 L1094.3,445.4 L1095.1,443.6 L1095.9,441.7 L1096.8,439.9 L1097.6,438.1 L1098.4,436.3 L1099.3,434.5 L1100.1,432.7 L1101.0,430.9 L1101.8,429.1 L1102.7,427.3 L1103.6,425.5 L1104.5,423.7 L1105.4,421.9 L1106.3,420.2 L1107.2,418.4 L1108.1,416.6 L1109.0,414.9 L1110.0,413.1 L1110.9,411.4 L1111.9,409.6 L1112.9,407.9 L1113.8,406.2 L1114.8,404.5 L1115.8,402.7 L1116.8,401.0 L1117.8,399.3 L1118.9,397.6 L1119.9,395.9 L1120.9,394.2 L1122.0,392.6 L1123.1,390.9 L1124.1,389.2 L1125.2,387.6 L1126.3,385.9 L1127.4,384.3 L1128.5,382.6 L1129.7,381.0 L1130.8,379.4 L1132.0,377.7 L1133.1,376.1 L1134.3,374.5 L1135.5,372.9 L1136.7,371.3 L1137.9,369.8 L1139.1,368.2 L1140.3,366.6 L1141.5,365.1 L1142.8,363.5 L1144.0,362.0 L1145.3,360.4 L1146.5,358.9 L1147.8,357.4 L1149.1,355.9 L1150.4,354.4 L1151.7,352.9 L1153.0,351.4 L1154.4,349.9 L1155.7,348.4 L1157.1,347.0 L1158.4,345.5 L1159.8,344.1 L1161.2,342.7 L1162.5,341.2 L1163.9,339.8 L1165.3,338.4 L1166.8,337.0 L1168.2,335.6 L1169.6,334.2 L1171.0,332.9 L1172.5,331.5 L1174.0,330.2 L1175.4,328.8 L1176.9,327.5 L1178.4,326.2 L1179.9,324.9 L1181.4,323.6 L1182.9,322.3 L1184.4,321.0 L1185.9,319.7 L1187.5,318.5 L1189.0,317.2 L1190.6,316.0 L1192.1,314.8 L1193.7,313.5 L1195.3,312.3 L1196.9,311.1 L1198.5,309.9 L1200.1,308.8 L1201.7,307.6 L1203.3,306.5 L1204.9,305.3 L1206.6,304.2 L1208.2,303.1 L1209.9,302.0 L1211.5,300.9 L1213.2,299.8 L1214.9,298.7 L1216.6,297.6 L1218.2,296.6 L1219.9,295.6 L1221.7,294.5 L1223.4,293.5 L1225.1,292.5 L1226.8,291.5 L1228.6,290.6 L1230.3,289.6 L1232.1,288.6 L1233.8,287.7 L1235.6,286.8 L1237.3,285.9 L1239.1,284.9 L1240.9,284.0 L1242.7,283.2 L1244.5,282.3 L1246.3,281.4 L1248.1,280.6 L1249.9,279.7 L1251.7,278.9 L1253.6,278.1 L1255.4,277.3 L1257.2,276.5 L1259.1,275.7 L1260.9,274.9 L1262.8,274.1 L1264.6,273.4 L1266.5,272.6 L1268.4,271.9 L1270.2,271.1 L1272.1,270.4 L1274.0,269.7 L1275.9,269.0 L1277.7,268.3 L1279.6,267.6 L1281.5,266.9 L1283.4,266.2 L1285.3,265.5 L1287.2,264.9 L1289.1,264.2 L1291.0,263.6 L1293.0,263.0 L1294.9,262.3 L1296.8,261.7 L1298.7,261.1 L1300.6,260.5 L1302.5,259.9 L1304.5,259.3 L1306.4,258.7 L1308.3,258.1 L1310.3,257.6 L1312.2,257.0 L1314.1,256.4 L1316.1,255.9 L1318.0,255.3 L1319.9,254.8 L1321.9,254.2 L1323.8,253.7 L1325.7,253.2 L1327.7,252.7 L1329.6,252.2 L1331.6,251.6 L1333.5,251.1 L1335.4,250.6 L1337.4,250.2 L1339.3,249.7 L1341.3,249.2 L1343.2,248.7 L1345.2,248.2 L1347.1,247.8 L1349.0,247.3 L1351.0,246.8 L1352.9,246.4 L1354.9,245.9 L1356.8,245.5 L1358.8,245.1 L1360.7,244.6 L1362.7,244.2 L1364.6,243.8 L1366.6,243.4 L1368.5,242.9 L1370.5,242.5 L1372.4,242.1 L1374.4,241.7 L1376.4,241.3 L1378.3,240.9 L1380.3,240.5 L1382.2,240.2 L1384.2,239.8 L1386.1,239.4 L1388.1,239.0 L1390.0,238.7 L1392.0,238.3 L1394.0,237.9 L1395.9,237.6 L1397.9,237.2 L1399.8,236.9 L1401.8,236.5 L1403.8,236.2 L1405.7,235.9 L1407.7,235.5 L1409.7,235.2 L1411.6,234.9 L1413.6,234.5 L1415.6,234.2 L1417.5,233.9 L1419.5,233.6 L1421.5,233.3 L1423.4,233.0 L1425.4,232.7 L1427.4,232.4 L1429.3,232.1 L1431.3,231.8 L1433.3,231.5 L1435.2,231.2 L1437.2,230.9 L1439.2,230.6 L1441.1,230.3 L1443.1,230.1 L1445.1,229.8 L1447.1,229.5 L1449.0,229.2 L1451.0,229.0 L1453.0,228.7 L1454.9,228.4 L1456.9,228.2 L1458.9,227.9 L1460.9,227.7 L1462.8,227.4 L1464.8,227.2 L1466.8,226.9 L1468.8,226.7 L1470.7,226.4 L1472.7,226.2 L1474.7,225.9 L1476.7,225.7 L1478.7,225.5 L1480.6,225.2 L1482.6,225.0 L1484.6,224.7 L1486.6,224.5 L1488.5,224.3 L1490.5,224.1 L1492.5,223.8 L1494.5,223.6 L1496.5,223.4 L1498.4,223.2 L1500.4,222.9 L1502.4,222.7 L1504.4,222.5 L1506.4,222.3 L1508.4,222.1 L1510.3,221.9 L1512.3,221.7 L1514.3,221.4 L1516.3,221.2 L1518.3,221.0 L1520.3,220.8 L1522.2,220.6 L1524.2,220.4 L1526.2,220.2 L1528.2,220.0 L1530.2,219.8 L1532.2,219.6 L1534.1,219.4 L1536.1,219.2 L1538.1,219.0 L1540.1,218.8 L1542.1,218.6 L1544.1,218.4 L1546.1,218.2 L1548.0,218.0 L1550.0,217.8 L1552.0,217.6 L1554.0,217.5 L1556.0,217.3 L1558.0,217.1 L1560.0,216.9 L1562.0,216.7 L1563.9,216.5 L1565.9,216.3 L1567.9,216.2 L1569.9,216.0 L1571.9,215.8 L1573.9,215.6 L1575.9,215.5 L1577.9,215.3 L1579.9,215.1 L1581.9,214.9 L1583.8,214.8 L1585.8,214.6 L1587.8,214.4 L1589.8,214.2 L1591.8,214.1 L1593.8,213.9 L1595.8,213.7 L1597.8,213.6 L1599.8,213.4 L1601.8,213.3 L1603.8,213.1 L1605.8,212.9 L1607.7,212.8 L1609.7,212.6 L1611.7,212.5 L1613.7,212.3 L1615.7,212.1 L1617.7,212.0 L1619.7,211.8 L1621.7,211.7 L1623.7,211.5 L1625.7,211.4 L1627.7,211.2 L1629.7,211.1 L1631.7,210.9 L1633.7,210.8 L1635.7,210.6 L1637.6,210.5 L1639.6,210.3 L1641.6,210.2 L1643.6,210.1 L1645.6,209.9 L1647.6,209.8 L1649.6,209.6 L1651.6,209.5 L1653.6,209.4 L1655.6,209.2 L1657.6,209.1 L1659.6,208.9 L1661.6,208.8 L1663.6,208.7 L1665.6,208.5 L1667.6,208.4 L1669.6,208.3 L1671.6,208.2 L1673.6,208.0 L1675.6,207.9 L1677.6,207.8 L1679.5,207.6 L1681.5,207.5 L1683.5,207.4 L1685.5,207.3 L1687.5,207.1 L1689.5,207.0 L1691.5,206.9 L1693.5,206.8 L1695.5,206.6 L1697.5,206.5 L1699.5,206.4 L1701.5,206.3 L1703.5,206.2 L1705.5,206.0 L1707.5,205.9 L1709.5,205.8 L1711.5,205.7 L1713.5,205.6 L1715.5,205.5 L1717.5,205.4 L1719.5,205.2 L1721.5,205.1 L1723.5,205.0 L1725.5,204.9 L1727.5,204.8 L1729.5,204.7 L1731.5,204.6 L1733.5,204.5 L1735.4,204.4 L1737.4,204.3 L1739.4,204.2 L1741.4,204.1 L1743.4,204.0 L1745.4,203.8 L1747.4,203.7 L1749.4,203.6 L1751.4,203.5 L1753.4,203.4 L1755.4,203.3 L1757.4,203.2 L1759.4,203.1 L1761.4,203.0 L1763.4,202.9 L1765.4,202.8 L1767.4,202.8 L1769.4,202.7 L1771.4,202.6 L1773.4,202.5 L1775.4,202.4 L1777.4,202.3 L1779.4,202.2 L1781.4,202.1 L1783.4,202.0 L1785.4,201.9 L1787.4,201.8 L1789.4,201.7 L1791.3,201.6 L1793.3,201.5 L1795.3,201.5 L1797.3,201.4 L1799.3,201.3 L1801.3,201.2 L1803.3,201.1 L1805.3,201.0 L1807.3,200.9 L1809.3,200.9 L1811.3,200.8 L1813.3,200.7 L1815.3,200.6 L1817.3,200.5 L1819.3,200.4 L1821.3,200.3 L1823.3,200.3 L1825.3,200.2 L1827.3,200.1 L1829.2,200.0 L1831.2,199.9 L1833.2,199.9 L1835.2,199.8 L1837.2,199.7 L1839.2,199.6 L1841.2,199.5 L1843.2,199.5 L1845.2,199.4 L1847.2,199.3 L1849.2,199.2 L1851.2,199.2 L1853.2,199.1 L1855.2,199.0 L1857.1,198.9 L1859.1,198.9 L1861.1,198.8 L1863.1,198.7 L1865.1,198.6 L1867.1,198.6 L1869.1,198.5 L1871.1,198.4 L1873.1,198.4 L1875.1,198.3 L1877.1,198.2 L1879.0,198.1 L1881.0,198.1 L1883.0,198.0 L1885.0,197.9 L1887.0,197.9 L1889.0,197.8 L1891.0,197.7 L1893.0,197.7 L1895.0,197.6 L1896.9,197.5 L1899.0,197.6"/>
</g>
<rect x="1627" y="62" width="342" height="379" fill="#fff" stroke="#000" stroke-width="4" shape-rendering="crispEdges"/>
<line x1="1640.5" y1="132.5" x2="1867.5" y2="132.5" stroke="#ff0000" stroke-width="11" stroke-linecap="round"/>
<text transform="translate(1895.5,167.9) scale(1,1.04)" font-size="83.3">A</text>
<line x1="1640.5" y1="257.5" x2="1867.5" y2="257.5" stroke="#000000" stroke-width="11" stroke-linecap="round"/>
<text transform="translate(1897.5,292.1) scale(1,1.04)" font-size="83.3">T</text>
<line x1="1640.5" y1="382.5" x2="1867.5" y2="382.5" stroke="#0000ff" stroke-width="11" stroke-linecap="round"/>
<text transform="translate(1897.0,416.7) scale(1,1.04)" font-size="83.3">R</text>
<text transform="translate(258.0,796.8) scale(1,1.04)" font-size="83.3" text-anchor="end" letter-spacing="0.6">0.0</text>
<text transform="translate(258.0,479.1) scale(1,1.04)" font-size="83.3" text-anchor="end" letter-spacing="0.6">0.5</text>
<text transform="translate(258.0,159.5) scale(1,1.04)" font-size="83.3" text-anchor="end" letter-spacing="0.6">1.0</text>
<text transform="translate(301.7,881.2) scale(1,1.04)" font-size="83.3" text-anchor="middle" letter-spacing="1.2">390</text>
<text transform="translate(700.6,881.2) scale(1,1.04)" font-size="83.3" text-anchor="middle" letter-spacing="1.2">400</text>
<text transform="translate(1099.5,881.2) scale(1,1.04)" font-size="83.3" text-anchor="middle" letter-spacing="1.2">410</text>
<text transform="translate(1498.5,881.2) scale(1,1.04)" font-size="83.3" text-anchor="middle" letter-spacing="1.2">420</text>
<text transform="translate(1897.4,881.2) scale(1,1.04)" font-size="83.3" text-anchor="middle" letter-spacing="1.2">430</text>
<text transform="translate(1100.0,981.8)" font-size="83.3" text-anchor="middle" letter-spacing="0.9">wavelenght (nm)</text>
<text transform="translate(91.2,428.6) rotate(-90)" font-size="83.3" text-anchor="middle" letter-spacing="0.8">energy coeff.</text>
<text transform="translate(43.0,100.8)" font-size="100">a<tspan dx="3.5">)</tspan></text>
<g fill="#000" shape-rendering="crispEdges">
<rect x="301" y="1087" width="1597" height="8"/>
<rect x="301" y="1724" width="1597" height="9"/>
<rect x="297" y="1090.5" width="9" height="638.5"/>
<rect x="1893" y="1090.5" width="8" height="638.5"/>
<rect x="696" y="1690" width="9" height="38.5"/>
<rect x="696" y="1091" width="9" height="39"/>
<rect x="1095" y="1690" width="9" height="38.5"/>
<rect x="1095" y="1091" width="9" height="39"/>
<rect x="1494" y="1690" width="9" height="38.5"/>
<rect x="1494" y="1091" width="9" height="39"/>
<rect x="496" y="1709" width="8" height="19.5"/>
<rect x="496" y="1091" width="8" height="19"/>
<rect x="896" y="1709" width="8" height="19.5"/>
<rect x="896" y="1091" width="8" height="19"/>
<rect x="1295" y="1709" width="8" height="19.5"/>
<rect x="1295" y="1091" width="8" height="19"/>
<rect x="1694" y="1709" width="8" height="19.5"/>
<rect x="1694" y="1091" width="8" height="19"/>
<rect x="301" y="1246" width="20" height="9"/>
<rect x="1877" y="1246" width="20" height="9"/>
<rect x="301" y="1406" width="39" height="9"/>
<rect x="1858" y="1406" width="39" height="9"/>
<rect x="301" y="1564" width="20" height="9"/>
<rect x="1877" y="1564" width="20" height="9"/>
</g>
<clipPath id="clipb"><rect x="301" y="1090.5" width="1598" height="639.8"/></clipPath>
<g clip-path="url(#clipb)" fill="none" stroke-width="11.2" stroke-linejoin="miter" stroke-miterlimit="3" stroke-linecap="butt">
<path stroke="#000000" d="M301.0,1567.5 L303.0,1567.5 L305.0,1567.6 L307.0,1567.8 L309.0,1567.9 L311.0,1568.1 L313.0,1568.3 L315.0,1568.5 L316.9,1568.7 L318.9,1568.9 L320.9,1569.1 L322.9,1569.3 L324.9,1569.5 L326.9,1569.8 L328.9,1570.0 L330.8,1570.3 L332.8,1570.5 L334.8,1570.8 L336.8,1571.1 L338.8,1571.4 L340.7,1571.6 L342.7,1571.9 L344.7,1572.2 L346.7,1572.5 L348.6,1572.8 L350.6,1573.2 L352.6,1573.5 L354.5,1573.8 L356.5,1574.1 L358.5,1574.5 L360.5,1574.8 L362.4,1575.2 L364.4,1575.5 L366.4,1575.9 L368.3,1576.2 L370.3,1576.6 L372.3,1577.0 L374.2,1577.3 L376.2,1577.7 L378.2,1578.1 L380.1,1578.5 L382.1,1578.8 L384.0,1579.2 L386.0,1579.6 L388.0,1580.0 L389.9,1580.4 L391.9,1580.8 L393.9,1581.2 L395.8,1581.6 L397.8,1582.0 L399.7,1582.4 L401.7,1582.8 L403.7,1583.2 L405.6,1583.6 L407.6,1584.0 L409.5,1584.4 L411.5,1584.8 L413.5,1585.2 L415.4,1585.6 L417.4,1586.0 L419.3,1586.4 L421.3,1586.7 L423.2,1587.1 L425.2,1587.5 L427.2,1587.9 L429.1,1588.3 L431.1,1588.7 L433.0,1589.1 L435.0,1589.5 L437.0,1589.8 L438.9,1590.2 L440.9,1590.6 L442.8,1591.0 L444.8,1591.3 L446.8,1591.7 L448.7,1592.1 L450.7,1592.4 L452.7,1592.8 L454.6,1593.1 L456.6,1593.5 L458.5,1593.8 L460.5,1594.1 L462.5,1594.5 L464.4,1594.8 L466.4,1595.1 L468.4,1595.4 L470.3,1595.7 L472.3,1596.0 L474.3,1596.3 L476.2,1596.6 L478.2,1596.9 L480.2,1597.1 L482.2,1597.4 L484.1,1597.7 L486.1,1597.9 L488.1,1598.2 L490.0,1598.4 L492.0,1598.6 L494.0,1598.9 L496.0,1599.1 L497.9,1599.3 L499.9,1599.5 L501.9,1599.7 L503.9,1599.8 L505.9,1600.0 L507.8,1600.2 L509.8,1600.3 L511.8,1600.5 L513.8,1600.6 L515.8,1600.7 L517.8,1600.8 L519.8,1600.9 L521.7,1601.0 L523.7,1601.1 L525.7,1601.2 L527.7,1601.2 L529.7,1601.3 L531.7,1601.3 L533.7,1601.3 L535.7,1601.3 L537.7,1601.3 L539.7,1601.3 L541.7,1601.3 L543.7,1601.2 L545.7,1601.2 L547.7,1601.1 L549.7,1601.0 L551.7,1600.9 L553.8,1600.8 L555.8,1600.7 L557.8,1600.6 L559.8,1600.4 L561.8,1600.3 L563.8,1600.1 L565.8,1600.0 L567.9,1599.8 L569.9,1599.6 L571.9,1599.5 L573.9,1599.3 L575.9,1599.1 L577.9,1598.9 L580.0,1598.7 L582.0,1598.5 L584.0,1598.3 L586.0,1598.1 L588.0,1597.9 L590.0,1597.7 L592.1,1597.5 L594.1,1597.4 L596.1,1597.2 L598.1,1597.0 L600.1,1596.8 L602.1,1596.7 L604.1,1596.5 L606.1,1596.4 L608.2,1596.2 L610.2,1596.1 L612.2,1596.0 L614.2,1595.9 L616.2,1595.8 L618.2,1595.7 L620.2,1595.6 L622.2,1595.5 L624.1,1595.5 L626.1,1595.5 L628.1,1595.5 L630.1,1595.5 L632.1,1595.5 L634.1,1595.6 L636.0,1595.6 L638.0,1595.7 L640.0,1595.8 L642.0,1595.9 L643.9,1596.1 L645.9,1596.3 L647.8,1596.5 L649.8,1596.7 L651.7,1596.9 L653.7,1597.2 L655.6,1597.5 L657.6,1597.9 L659.5,1598.2 L661.4,1598.6 L663.3,1599.0 L665.3,1599.4 L667.2,1599.9 L669.1,1600.4 L671.0,1600.9 L672.9,1601.4 L674.8,1602.0 L676.7,1602.5 L678.6,1603.1 L680.5,1603.8 L682.3,1604.4 L684.2,1605.1 L686.1,1605.8 L687.9,1606.5 L689.8,1607.2 L691.6,1608.0 L693.5,1608.7 L695.3,1609.5 L697.1,1610.3 L699.0,1611.2 L700.8,1612.0 L702.6,1612.9 L704.4,1613.7 L706.2,1614.6 L708.0,1615.6 L709.8,1616.5 L711.6,1617.4 L713.3,1618.4 L715.1,1619.4 L716.9,1620.3 L718.6,1621.3 L720.4,1622.3 L722.2,1623.3 L723.9,1624.3 L725.7,1625.3 L727.5,1626.3 L729.2,1627.2 L731.0,1628.2 L732.8,1629.2 L734.5,1630.2 L736.3,1631.1 L738.1,1632.1 L739.8,1633.0 L741.6,1634.0 L743.4,1634.9 L745.2,1635.8 L747.0,1636.7 L748.8,1637.6 L750.6,1638.4 L752.4,1639.2 L754.2,1640.0 L756.1,1640.8 L757.9,1641.6 L759.8,1642.3 L761.6,1643.0 L763.5,1643.7 L765.3,1644.3 L767.2,1645.0 L769.1,1645.6 L771.0,1646.2 L772.9,1646.8 L774.8,1647.3 L776.7,1647.9 L778.6,1648.4 L780.6,1648.9 L782.5,1649.4 L784.4,1649.9 L786.4,1650.4 L788.3,1650.8 L790.3,1651.3 L792.2,1651.7 L794.2,1652.1 L796.1,1652.5 L798.1,1652.9 L800.0,1653.3 L802.0,1653.7 L803.9,1654.1 L805.9,1654.5 L807.9,1654.9 L809.8,1655.3 L811.8,1655.6 L813.8,1656.0 L815.7,1656.4 L817.7,1656.8 L819.7,1657.1 L821.6,1657.5 L823.6,1657.9 L825.6,1658.3 L827.5,1658.7 L829.5,1659.1 L831.4,1659.5 L833.4,1659.9 L835.3,1660.3 L837.3,1660.7 L839.2,1661.2 L841.2,1661.6 L843.1,1662.1 L845.0,1662.5 L846.9,1663.0 L848.9,1663.5 L850.8,1664.0 L852.7,1664.6 L854.6,1665.1 L856.5,1665.7 L858.4,1666.2 L860.3,1666.8 L862.1,1667.5 L864.0,1668.1 L865.9,1668.8 L867.7,1669.4 L869.6,1670.1 L871.4,1670.9 L873.2,1671.6 L875.0,1672.4 L876.9,1673.1 L878.7,1673.9 L880.5,1674.7 L882.3,1675.5 L884.1,1676.4 L885.9,1677.2 L887.7,1678.1 L889.5,1678.9 L891.3,1679.8 L893.0,1680.7 L894.8,1681.6 L896.6,1682.5 L898.4,1683.4 L900.1,1684.3 L901.9,1685.2 L903.7,1686.1 L905.4,1687.0 L907.2,1688.0 L909.0,1688.9 L910.7,1689.8 L912.5,1690.8 L914.3,1691.7 L916.0,1692.6 L917.8,1693.5 L919.6,1694.5 L921.4,1695.4 L923.1,1696.3 L924.9,1697.2 L926.7,1698.1 L928.5,1699.0 L930.3,1699.9 L932.1,1700.8 L933.8,1701.6 L935.6,1702.5 L937.4,1703.4 L939.3,1704.2 L941.1,1705.0 L942.9,1705.8 L944.7,1706.6 L946.5,1707.4 L948.4,1708.2 L950.2,1708.9 L952.1,1709.7 L953.9,1710.4 L955.8,1711.1 L957.7,1711.8 L959.5,1712.4 L961.4,1713.1 L963.3,1713.7 L965.2,1714.3 L967.1,1714.9 L969.0,1715.5 L970.9,1716.1 L972.8,1716.6 L974.7,1717.2 L976.6,1717.7 L978.5,1718.2 L980.5,1718.6 L982.4,1719.1 L984.3,1719.5 L986.3,1719.9 L988.2,1720.3 L990.2,1720.7 L992.1,1721.0 L994.1,1721.4 L996.0,1721.7 L998.0,1722.0 L1000.0,1722.3 L1001.9,1722.6 L1003.9,1722.8 L1005.9,1723.1 L1007.9,1723.3 L1009.9,1723.5 L1011.8,1723.7 L1013.8,1723.9 L1015.8,1724.1 L1017.8,1724.2 L1019.8,1724.4 L1021.8,1724.5 L1023.8,1724.7 L1025.8,1724.8 L1027.8,1724.9 L1029.8,1725.0 L1031.8,1725.1 L1033.8,1725.2 L1035.8,1725.3 L1037.8,1725.4 L1039.8,1725.5 L1041.8,1725.5 L1043.8,1725.6 L1045.8,1725.7 L1047.8,1725.8 L1049.8,1725.8 L1051.8,1725.9 L1053.8,1726.0 L1055.8,1726.0 L1057.8,1726.1 L1059.8,1726.2 L1061.8,1726.2 L1063.8,1726.3 L1065.8,1726.4 L1067.8,1726.4 L1069.8,1726.5 L1071.8,1726.5 L1073.8,1726.6 L1075.8,1726.7 L1077.8,1726.7 L1079.8,1726.8 L1081.9,1726.8 L1083.9,1726.9 L1085.9,1727.0 L1087.9,1727.0 L1089.9,1727.1 L1091.9,1727.1 L1093.9,1727.2 L1095.9,1727.2 L1097.9,1727.3 L1099.9,1727.3 L1101.9,1727.4 L1103.9,1727.4 L1105.9,1727.5 L1107.9,1727.5 L1109.9,1727.6 L1111.9,1727.6 L1113.9,1727.7 L1115.9,1727.7 L1117.9,1727.8 L1119.9,1727.8 L1121.9,1727.8 L1123.9,1727.9 L1125.9,1727.9 L1127.9,1728.0 L1129.9,1728.0 L1131.9,1728.0 L1133.9,1728.1 L1135.9,1728.1 L1137.9,1728.2 L1139.9,1728.2 L1141.9,1728.2 L1143.9,1728.3 L1145.9,1728.3 L1147.9,1728.3 L1149.9,1728.4 L1151.9,1728.4 L1153.9,1728.4 L1155.9,1728.5 L1157.9,1728.5 L1159.9,1728.5 L1161.9,1728.6 L1163.9,1728.6 L1165.9,1728.6 L1167.9,1728.7 L1169.9,1728.7 L1171.9,1728.7 L1173.9,1728.8 L1175.9,1728.8 L1177.9,1728.8 L1179.9,1728.8 L1181.9,1728.9 L1183.9,1728.9 L1185.9,1728.9 L1187.9,1728.9 L1189.9,1729.0 L1191.9,1729.0 L1193.9,1729.0 L1195.9,1729.0 L1197.9,1729.0 L1199.9,1729.1 L1201.9,1729.1 L1203.9,1729.1 L1205.9,1729.1 L1207.9,1729.1 L1209.9,1729.2 L1211.9,1729.2 L1213.9,1729.2 L1215.9,1729.2 L1217.9,1729.2 L1219.9,1729.2 L1221.9,1729.3 L1223.9,1729.3 L1225.9,1729.3 L1227.9,1729.3 L1229.9,1729.3 L1231.9,1729.3 L1233.9,1729.3 L1235.9,1729.3 L1237.9,1729.4 L1239.9,1729.4 L1241.9,1729.4 L1243.9,1729.4 L1245.9,1729.4 L1247.9,1729.4 L1249.9,1729.4 L1251.9,1729.4 L1253.9,1729.4 L1255.9,1729.4 L1257.9,1729.4 L1259.9,1729.5 L1261.9,1729.5 L1263.9,1729.5 L1265.9,1729.5 L1267.9,1729.5 L1269.9,1729.5 L1271.9,1729.5 L1273.9,1729.5 L1275.9,1729.5 L1277.9,1729.5 L1279.8,1729.5 L1281.8,1729.5 L1283.8,1729.5 L1285.8,1729.5 L1287.8,1729.5 L1289.8,1729.5 L1291.8,1729.5 L1293.8,1729.5 L1295.8,1729.5 L1297.8,1729.5 L1299.8,1729.5 L1301.8,1729.5 L1303.8,1729.5 L1305.8,1729.5 L1307.8,1729.5 L1309.8,1729.5 L1311.8,1729.5 L1313.8,1729.5 L1315.8,1729.5 L1317.8,1729.5 L1319.8,1729.5 L1321.8,1729.5 L1323.8,1729.5 L1325.8,1729.5 L1327.8,1729.4 L1329.8,1729.4 L1331.8,1729.4 L1333.8,1729.4 L1335.8,1729.4 L1337.8,1729.4 L1339.8,1729.4 L1341.7,1729.4 L1343.7,1729.4 L1345.7,1729.4 L1347.7,1729.4 L1349.7,1729.4 L1351.7,1729.4 L1353.7,1729.3 L1355.7,1729.3 L1357.7,1729.3 L1359.7,1729.3 L1361.7,1729.3 L1363.7,1729.3 L1365.7,1729.3 L1367.7,1729.3 L1369.7,1729.3 L1371.7,1729.2 L1373.7,1729.2 L1375.7,1729.2 L1377.7,1729.2 L1379.7,1729.2 L1381.7,1729.2 L1383.7,1729.2 L1385.7,1729.2 L1387.7,1729.1 L1389.7,1729.1 L1391.6,1729.1 L1393.6,1729.1 L1395.6,1729.1 L1397.6,1729.1 L1399.6,1729.1 L1401.6,1729.0 L1403.6,1729.0 L1405.6,1729.0 L1407.6,1729.0 L1409.6,1729.0 L1411.6,1729.0 L1413.6,1728.9 L1415.6,1728.9 L1417.6,1728.9 L1419.6,1728.9 L1421.6,1728.9 L1423.6,1728.9 L1425.6,1728.9 L1427.6,1728.8 L1429.6,1728.8 L1431.6,1728.8 L1433.6,1728.8 L1435.6,1728.8 L1437.5,1728.7 L1439.5,1728.7 L1441.5,1728.7 L1443.5,1728.7 L1445.5,1728.7 L1447.5,1728.7 L1449.5,1728.6 L1451.5,1728.6 L1453.5,1728.6 L1455.5,1728.6 L1457.5,1728.6 L1459.5,1728.5 L1461.5,1728.5 L1463.5,1728.5 L1465.5,1728.5 L1467.5,1728.5 L1469.5,1728.4 L1471.5,1728.4 L1473.5,1728.4 L1475.5,1728.4 L1477.5,1728.4 L1479.4,1728.4 L1481.4,1728.3 L1483.4,1728.3 L1485.4,1728.3 L1487.4,1728.3 L1489.4,1728.3 L1491.4,1728.2 L1493.4,1728.2 L1495.4,1728.2 L1497.4,1728.2 L1499.4,1728.2 L1501.4,1728.1 L1503.4,1728.1 L1505.4,1728.1 L1507.4,1728.1 L1509.4,1728.1 L1511.4,1728.0 L1513.4,1728.0 L1515.4,1728.0 L1517.4,1728.0 L1519.4,1728.0 L1521.3,1727.9 L1523.3,1727.9 L1525.3,1727.9 L1527.3,1727.9 L1529.3,1727.9 L1531.3,1727.8 L1533.3,1727.8 L1535.3,1727.8 L1537.3,1727.8 L1539.3,1727.8 L1541.3,1727.7 L1543.3,1727.7 L1545.3,1727.7 L1547.3,1727.7 L1549.3,1727.7 L1551.3,1727.6 L1553.3,1727.6 L1555.3,1727.6 L1557.3,1727.6 L1559.3,1727.6 L1561.3,1727.5 L1563.3,1727.5 L1565.2,1727.5 L1567.2,1727.5 L1569.2,1727.5 L1571.2,1727.5 L1573.2,1727.4 L1575.2,1727.4 L1577.2,1727.4 L1579.2,1727.4 L1581.2,1727.4 L1583.2,1727.3 L1585.2,1727.3 L1587.2,1727.3 L1589.2,1727.3 L1591.2,1727.3 L1593.2,1727.3 L1595.2,1727.2 L1597.2,1727.2 L1599.2,1727.2 L1601.2,1727.2 L1603.2,1727.2 L1605.2,1727.2 L1607.2,1727.1 L1609.2,1727.1 L1611.2,1727.1 L1613.1,1727.1 L1615.1,1727.1 L1617.1,1727.1 L1619.1,1727.1 L1621.1,1727.0 L1623.1,1727.0 L1625.1,1727.0 L1627.1,1727.0 L1629.1,1727.0 L1631.1,1727.0 L1633.1,1727.0 L1635.1,1726.9 L1637.1,1726.9 L1639.1,1726.9 L1641.1,1726.9 L1643.1,1726.9 L1645.1,1726.9 L1647.1,1726.9 L1649.1,1726.9 L1651.1,1726.8 L1653.1,1726.8 L1655.1,1726.8 L1657.1,1726.8 L1659.1,1726.8 L1661.1,1726.8 L1663.1,1726.8 L1665.1,1726.8 L1667.0,1726.8 L1669.0,1726.7 L1671.0,1726.7 L1673.0,1726.7 L1675.0,1726.7 L1677.0,1726.7 L1679.0,1726.7 L1681.0,1726.7 L1683.0,1726.7 L1685.0,1726.7 L1687.0,1726.7 L1689.0,1726.7 L1691.0,1726.7 L1693.0,1726.7 L1695.0,1726.7 L1697.0,1726.6 L1699.0,1726.6 L1701.0,1726.6 L1703.0,1726.6 L1705.0,1726.6 L1707.0,1726.6 L1709.0,1726.6 L1711.0,1726.6 L1713.0,1726.6 L1715.0,1726.6 L1717.0,1726.6 L1719.0,1726.6 L1721.0,1726.6 L1723.0,1726.6 L1725.0,1726.6 L1727.0,1726.6 L1729.0,1726.6 L1731.0,1726.6 L1733.0,1726.6 L1735.0,1726.6 L1737.0,1726.6 L1739.0,1726.6 L1741.0,1726.6 L1743.0,1726.6 L1745.0,1726.6 L1747.0,1726.6 L1749.0,1726.6 L1750.9,1726.6 L1752.9,1726.6 L1754.9,1726.6 L1756.9,1726.7 L1758.9,1726.7 L1760.9,1726.7 L1762.9,1726.7 L1764.9,1726.7 L1766.9,1726.7 L1768.9,1726.7 L1770.9,1726.7 L1772.9,1726.7 L1774.9,1726.7 L1776.9,1726.7 L1778.9,1726.7 L1780.9,1726.8 L1782.9,1726.8 L1784.9,1726.8 L1786.9,1726.8 L1788.9,1726.8 L1790.9,1726.8 L1792.9,1726.8 L1794.9,1726.8 L1796.9,1726.9 L1798.9,1726.9 L1800.9,1726.9 L1802.9,1726.9 L1804.9,1726.9 L1806.9,1726.9 L1808.9,1727.0 L1810.9,1727.0 L1812.9,1727.0 L1814.9,1727.0 L1816.9,1727.0 L1818.9,1727.1 L1820.9,1727.1 L1822.9,1727.1 L1824.9,1727.1 L1826.9,1727.1 L1828.9,1727.2 L1830.9,1727.2 L1832.9,1727.2 L1834.9,1727.2 L1836.9,1727.3 L1838.9,1727.3 L1840.9,1727.3 L1842.9,1727.3 L1844.9,1727.4 L1846.9,1727.4 L1848.9,1727.4 L1850.9,1727.4 L1852.9,1727.5 L1855.0,1727.5 L1857.0,1727.5 L1859.0,1727.6 L1861.0,1727.6 L1863.0,1727.6 L1865.0,1727.7 L1867.0,1727.7 L1869.0,1727.7 L1871.0,1727.8 L1873.0,1727.8 L1875.0,1727.8 L1877.0,1727.9 L1879.0,1727.9 L1881.0,1727.9 L1883.0,1728.0 L1885.0,1728.0 L1887.0,1728.1 L1889.0,1728.1 L1891.0,1728.1 L1893.0,1728.2 L1895.0,1728.2 L1897.0,1728.3 L1899.0,1728.3"/>
<path stroke="#0000ff" d="M300.9,1371.7 L303.4,1371.7 L305.3,1371.8 L307.2,1371.9 L309.1,1372.0 L311.0,1372.1 L312.9,1372.1 L314.8,1372.2 L316.7,1372.2 L318.6,1372.2 L320.6,1372.2 L322.5,1372.2 L324.4,1372.2 L326.4,1372.1 L328.3,1372.1 L330.3,1372.0 L332.2,1371.9 L334.2,1371.8 L336.2,1371.7 L338.1,1371.6 L340.1,1371.5 L342.1,1371.3 L344.0,1371.2 L346.0,1371.0 L348.0,1370.9 L350.0,1370.7 L352.0,1370.5 L354.0,1370.3 L356.0,1370.1 L358.0,1369.9 L360.0,1369.7 L362.0,1369.5 L364.0,1369.3 L366.0,1369.1 L368.0,1368.8 L370.0,1368.6 L372.1,1368.4 L374.1,1368.1 L376.1,1367.9 L378.1,1367.6 L380.2,1367.4 L382.2,1367.1 L384.2,1366.9 L386.2,1366.6 L388.3,1366.4 L390.3,1366.1 L392.3,1365.8 L394.4,1365.6 L396.4,1365.3 L398.4,1365.1 L400.5,1364.8 L402.5,1364.6 L404.5,1364.3 L406.6,1364.1 L408.6,1363.8 L410.7,1363.6 L412.7,1363.3 L414.7,1363.1 L416.8,1362.9 L418.8,1362.6 L420.8,1362.4 L422.9,1362.2 L424.9,1362.0 L426.9,1361.8 L429.0,1361.6 L431.0,1361.4 L433.0,1361.2 L435.0,1361.1 L437.1,1360.9 L439.1,1360.8 L441.1,1360.6 L443.1,1360.5 L445.2,1360.3 L447.2,1360.2 L449.2,1360.1 L451.2,1360.0 L453.2,1359.9 L455.2,1359.9 L457.2,1359.8 L459.2,1359.8 L461.2,1359.7 L463.2,1359.7 L465.2,1359.7 L467.2,1359.7 L469.2,1359.7 L471.2,1359.8 L473.2,1359.8 L475.1,1359.9 L477.1,1360.0 L479.1,1360.1 L481.0,1360.2 L483.0,1360.3 L485.0,1360.5 L486.9,1360.7 L488.9,1360.8 L490.8,1361.0 L492.7,1361.3 L494.7,1361.5 L496.6,1361.8 L498.5,1362.1 L500.5,1362.4 L502.4,1362.7 L504.3,1363.1 L506.2,1363.4 L508.1,1363.8 L510.0,1364.2 L511.9,1364.7 L513.7,1365.2 L515.6,1365.6 L517.5,1366.2 L519.4,1366.7 L521.2,1367.2 L523.1,1367.8 L524.9,1368.4 L526.7,1369.1 L528.6,1369.7 L530.4,1370.4 L532.2,1371.1 L534.0,1371.9 L535.8,1372.6 L537.6,1373.4 L539.4,1374.2 L541.2,1375.0 L543.0,1375.9 L544.8,1376.7 L546.6,1377.6 L548.3,1378.5 L550.1,1379.4 L551.9,1380.3 L553.6,1381.3 L555.4,1382.2 L557.1,1383.2 L558.9,1384.2 L560.6,1385.2 L562.3,1386.3 L564.1,1387.3 L565.8,1388.4 L567.5,1389.4 L569.2,1390.5 L570.9,1391.6 L572.6,1392.7 L574.3,1393.8 L576.0,1394.9 L577.7,1396.1 L579.4,1397.2 L581.1,1398.4 L582.8,1399.5 L584.5,1400.7 L586.2,1401.9 L587.9,1403.1 L589.5,1404.3 L591.2,1405.4 L592.9,1406.6 L594.6,1407.9 L596.2,1409.1 L597.9,1410.3 L599.5,1411.5 L601.2,1412.7 L602.9,1413.9 L604.5,1415.2 L606.2,1416.4 L607.8,1417.6 L609.5,1418.8 L611.1,1420.0 L612.8,1421.3 L614.4,1422.5 L616.1,1423.7 L617.7,1424.9 L619.4,1426.1 L621.0,1427.4 L622.6,1428.6 L624.3,1429.8 L625.9,1431.0 L627.6,1432.1 L629.2,1433.3 L630.8,1434.5 L632.5,1435.7 L634.1,1436.8 L635.8,1438.0 L637.4,1439.1 L639.1,1440.2 L640.7,1441.3 L642.4,1442.3 L644.1,1443.4 L645.7,1444.4 L647.4,1445.4 L649.1,1446.3 L650.8,1447.2 L652.5,1448.1 L654.2,1449.0 L656.0,1449.8 L657.7,1450.5 L659.4,1451.3 L661.2,1452.0 L663.0,1452.6 L664.8,1453.2 L666.6,1453.7 L668.4,1454.2 L670.2,1454.6 L672.1,1455.0 L674.0,1455.3 L675.9,1455.6 L677.8,1455.8 L679.7,1455.9 L681.6,1456.0 L683.6,1456.0 L685.6,1455.9 L687.6,1455.8 L689.6,1455.6 L691.6,1455.4 L693.6,1455.1 L695.6,1454.8 L697.6,1454.4 L699.6,1454.0 L701.6,1453.6 L703.7,1453.1 L705.7,1452.5 L707.7,1451.9 L709.7,1451.3 L711.7,1450.7 L713.7,1450.0 L715.6,1449.3 L717.6,1448.5 L719.6,1447.8 L721.6,1447.0 L723.6,1446.2 L725.5,1445.4 L727.5,1444.6 L729.4,1443.8 L731.4,1443.0 L733.3,1442.2 L735.3,1441.4 L737.2,1440.6 L739.1,1439.8 L741.1,1439.1 L743.0,1438.3 L744.9,1437.6 L746.8,1436.9 L748.7,1436.2 L750.6,1435.5 L752.5,1434.9 L754.4,1434.3 L756.3,1433.8 L758.2,1433.3 L760.0,1432.8 L761.9,1432.4 L763.8,1432.0 L765.6,1431.7 L767.5,1431.5 L769.3,1431.3 L771.2,1431.1 L773.0,1431.1 L774.9,1431.1 L776.7,1431.2 L778.5,1431.3 L780.3,1431.6 L782.1,1431.9 L783.9,1432.3 L785.7,1432.8 L787.5,1433.3 L789.3,1434.0 L791.1,1434.7 L792.9,1435.5 L794.6,1436.4 L796.4,1437.4 L798.1,1438.4 L799.8,1439.5 L801.5,1440.6 L803.2,1441.8 L804.9,1443.1 L806.5,1444.4 L808.1,1445.7 L809.7,1447.1 L811.3,1448.5 L812.9,1450.0 L814.4,1451.4 L815.9,1453.0 L817.4,1454.5 L818.8,1456.1 L820.2,1457.7 L821.6,1459.2 L822.9,1460.9 L824.3,1462.5 L825.5,1464.1 L826.8,1465.7 L828.0,1467.4 L829.2,1469.0 L830.4,1470.7 L831.5,1472.3 L832.6,1474.0 L833.7,1475.7 L834.8,1477.4 L835.8,1479.1 L836.9,1480.8 L837.9,1482.5 L838.8,1484.2 L839.8,1485.9 L840.8,1487.6 L841.7,1489.3 L842.6,1491.1 L843.6,1492.8 L844.5,1494.6 L845.4,1496.3 L846.3,1498.0 L847.1,1499.8 L848.0,1501.5 L848.9,1503.3 L849.8,1505.1 L850.6,1506.8 L851.5,1508.6 L852.4,1510.3 L853.2,1512.1 L854.1,1513.9 L855.0,1515.6 L855.9,1517.4 L856.8,1519.2 L857.7,1521.0 L858.6,1522.7 L859.5,1524.5 L860.4,1526.3 L861.3,1528.1 L862.3,1529.8 L863.3,1531.6 L864.2,1533.4 L865.2,1535.1 L866.2,1536.9 L867.3,1538.6 L868.3,1540.3 L869.4,1542.1 L870.4,1543.8 L871.5,1545.5 L872.6,1547.2 L873.7,1548.9 L874.9,1550.5 L876.0,1552.2 L877.2,1553.8 L878.4,1555.4 L879.6,1557.0 L880.9,1558.6 L882.1,1560.2 L883.4,1561.7 L884.7,1563.2 L886.0,1564.7 L887.4,1566.2 L888.8,1567.7 L890.2,1569.1 L891.6,1570.5 L893.0,1571.8 L894.5,1573.2 L896.0,1574.5 L897.5,1575.7 L899.1,1577.0 L900.6,1578.2 L902.3,1579.3 L903.9,1580.5 L905.5,1581.6 L907.2,1582.6 L908.9,1583.7 L910.7,1584.7 L912.4,1585.7 L914.2,1586.6 L916.0,1587.6 L917.7,1588.5 L919.5,1589.5 L921.3,1590.4 L923.0,1591.4 L924.8,1592.4 L926.5,1593.4 L928.2,1594.4 L929.8,1595.4 L931.5,1596.5 L933.1,1597.6 L934.6,1598.8 L936.2,1600.1 L937.6,1601.3 L939.0,1602.7 L940.4,1604.1 L941.7,1605.5 L943.0,1607.0 L944.2,1608.5 L945.4,1610.1 L946.6,1611.7 L947.7,1613.4 L948.8,1615.1 L949.8,1616.8 L950.8,1618.6 L951.8,1620.4 L952.7,1622.2 L953.7,1624.0 L954.6,1625.9 L955.4,1627.7 L956.3,1629.6 L957.1,1631.5 L957.9,1633.4 L958.6,1635.3 L959.4,1637.3 L960.1,1639.2 L960.8,1641.1 L961.5,1643.1 L962.2,1645.0 L962.9,1646.9 L963.6,1648.8 L964.3,1650.7 L964.9,1652.6 L965.6,1654.4 L966.2,1656.3 L966.9,1658.1 L967.5,1660.0 L968.2,1661.8 L968.9,1663.6 L969.5,1665.4 L970.2,1667.2 L970.9,1669.0 L971.7,1670.8 L972.4,1672.6 L973.2,1674.4 L974.0,1676.2 L974.8,1678.1 L975.7,1679.9 L976.5,1681.7 L977.5,1683.6 L978.4,1685.4 L979.4,1687.3 L980.5,1689.2 L981.6,1691.1 L982.7,1693.0 L983.9,1695.0 L985.2,1696.9 L986.4,1698.8 L987.8,1700.7 L989.1,1702.5 L990.5,1704.2 L991.9,1705.8 L993.3,1707.2 L994.7,1708.4 L996.2,1709.4 L997.6,1710.2 L999.0,1710.7 L1000.4,1710.9 L1001.8,1710.9 L1003.2,1710.5 L1004.5,1709.8 L1005.8,1709.0 L1007.1,1707.9 L1008.4,1706.6 L1009.7,1705.1 L1010.9,1703.5 L1012.1,1701.7 L1013.2,1699.9 L1014.4,1698.0 L1015.5,1696.0 L1016.5,1694.0 L1017.5,1692.1 L1018.5,1690.1 L1019.5,1688.1 L1020.4,1686.1 L1021.3,1684.2 L1022.1,1682.2 L1023.0,1680.3 L1023.8,1678.3 L1024.5,1676.4 L1025.3,1674.4 L1026.0,1672.5 L1026.7,1670.6 L1027.3,1668.6 L1027.9,1666.7 L1028.6,1664.8 L1029.2,1662.8 L1029.7,1660.9 L1030.3,1659.0 L1030.8,1657.1 L1031.3,1655.2 L1031.8,1653.2 L1032.3,1651.3 L1032.8,1649.4 L1033.3,1647.5 L1033.7,1645.6 L1034.1,1643.6 L1034.6,1641.7 L1035.0,1639.8 L1035.4,1637.9 L1035.8,1635.9 L1036.2,1634.0 L1036.6,1632.1 L1037.0,1630.1 L1037.3,1628.2 L1037.7,1626.3 L1038.1,1624.3 L1038.5,1622.4 L1038.8,1620.4 L1039.2,1618.5 L1039.6,1616.5 L1039.9,1614.6 L1040.3,1612.6 L1040.7,1610.6 L1041.0,1608.7 L1041.4,1606.7 L1041.7,1604.8 L1042.1,1602.8 L1042.4,1600.8 L1042.8,1598.9 L1043.1,1596.9 L1043.5,1594.9 L1043.8,1592.9 L1044.2,1591.0 L1044.5,1589.0 L1044.9,1587.0 L1045.2,1585.0 L1045.6,1583.1 L1045.9,1581.1 L1046.3,1579.1 L1046.6,1577.1 L1047.0,1575.1 L1047.4,1573.2 L1047.7,1571.2 L1048.1,1569.2 L1048.4,1567.2 L1048.8,1565.3 L1049.1,1563.3 L1049.5,1561.3 L1049.9,1559.3 L1050.2,1557.4 L1050.6,1555.4 L1051.0,1553.4 L1051.4,1551.4 L1051.7,1549.5 L1052.1,1547.5 L1052.5,1545.5 L1052.9,1543.6 L1053.3,1541.6 L1053.7,1539.6 L1054.1,1537.7 L1054.5,1535.7 L1054.9,1533.7 L1055.3,1531.8 L1055.7,1529.8 L1056.1,1527.9 L1056.5,1525.9 L1056.9,1523.9 L1057.4,1522.0 L1057.8,1520.0 L1058.2,1518.1 L1058.6,1516.1 L1059.1,1514.2 L1059.5,1512.2 L1059.9,1510.3 L1060.4,1508.3 L1060.8,1506.4 L1061.3,1504.4 L1061.7,1502.5 L1062.2,1500.6 L1062.6,1498.6 L1063.1,1496.7 L1063.6,1494.7 L1064.0,1492.8 L1064.5,1490.8 L1065.0,1488.9 L1065.4,1487.0 L1065.9,1485.0 L1066.4,1483.1 L1066.9,1481.2 L1067.3,1479.2 L1067.8,1477.3 L1068.3,1475.4 L1068.8,1473.4 L1069.3,1471.5 L1069.8,1469.6 L1070.3,1467.6 L1070.8,1465.7 L1071.3,1463.8 L1071.8,1461.8 L1072.3,1459.9 L1072.8,1458.0 L1073.3,1456.1 L1073.8,1454.1 L1074.3,1452.2 L1074.8,1450.3 L1075.3,1448.4 L1075.9,1446.4 L1076.4,1444.5 L1076.9,1442.6 L1077.4,1440.7 L1077.9,1438.7 L1078.5,1436.8 L1079.0,1434.9 L1079.5,1433.0 L1080.1,1431.1 L1080.6,1429.1 L1081.1,1427.2 L1081.7,1425.3 L1082.2,1423.4 L1082.8,1421.4 L1083.3,1419.5 L1083.9,1417.6 L1084.4,1415.7 L1084.9,1413.8 L1085.5,1411.8 L1086.1,1409.9 L1086.6,1408.0 L1087.2,1406.1 L1087.7,1404.2 L1088.3,1402.3 L1088.8,1400.3 L1089.4,1398.4 L1090.0,1396.5 L1090.5,1394.6 L1091.1,1392.7 L1091.7,1390.7 L1092.2,1388.8 L1092.8,1386.9 L1093.4,1385.0 L1093.9,1383.1 L1094.5,1381.1 L1095.1,1379.2 L1095.7,1377.3 L1096.2,1375.4 L1096.8,1373.5 L1097.4,1371.5 L1098.0,1369.6 L1098.6,1367.7 L1099.2,1365.8 L1099.8,1363.9 L1100.4,1362.0 L1101.0,1360.1 L1101.6,1358.1 L1102.2,1356.2 L1102.8,1354.3 L1103.4,1352.4 L1104.0,1350.5 L1104.6,1348.6 L1105.3,1346.7 L1105.9,1344.8 L1106.5,1342.9 L1107.2,1341.0 L1107.8,1339.1 L1108.5,1337.2 L1109.2,1335.3 L1109.8,1333.4 L1110.5,1331.5 L1111.2,1329.7 L1111.9,1327.8 L1112.5,1325.9 L1113.2,1324.0 L1113.9,1322.1 L1114.6,1320.3 L1115.4,1318.4 L1116.1,1316.5 L1116.8,1314.7 L1117.6,1312.8 L1118.3,1311.0 L1119.1,1309.1 L1119.8,1307.3 L1120.6,1305.4 L1121.4,1303.6 L1122.1,1301.7 L1122.9,1299.9 L1123.7,1298.1 L1124.5,1296.2 L1125.4,1294.4 L1126.2,1292.6 L1127.0,1290.8 L1127.9,1289.0 L1128.7,1287.1 L1129.6,1285.3 L1130.5,1283.5 L1131.4,1281.7 L1132.3,1280.0 L1133.2,1278.2 L1134.1,1276.4 L1135.0,1274.6 L1136.0,1272.8 L1136.9,1271.1 L1137.9,1269.3 L1138.9,1267.6 L1139.8,1265.8 L1140.8,1264.1 L1141.9,1262.3 L1142.9,1260.6 L1143.9,1258.9 L1144.9,1257.2 L1146.0,1255.4 L1147.1,1253.7 L1148.1,1252.0 L1149.2,1250.3 L1150.3,1248.6 L1151.5,1247.0 L1152.6,1245.3 L1153.7,1243.6 L1154.9,1242.0 L1156.0,1240.3 L1157.2,1238.7 L1158.4,1237.0 L1159.6,1235.4 L1160.8,1233.8 L1162.0,1232.2 L1163.2,1230.6 L1164.4,1229.0 L1165.7,1227.4 L1166.9,1225.8 L1168.2,1224.3 L1169.5,1222.7 L1170.8,1221.2 L1172.1,1219.6 L1173.4,1218.1 L1174.7,1216.6 L1176.0,1215.1 L1177.4,1213.6 L1178.7,1212.1 L1180.1,1210.6 L1181.5,1209.2 L1182.8,1207.7 L1184.2,1206.3 L1185.6,1204.9 L1187.1,1203.4 L1188.5,1202.0 L1189.9,1200.7 L1191.4,1199.3 L1192.8,1197.9 L1194.3,1196.6 L1195.8,1195.2 L1197.2,1193.9 L1198.7,1192.6 L1200.2,1191.3 L1201.8,1190.0 L1203.3,1188.7 L1204.8,1187.4 L1206.4,1186.2 L1207.9,1185.0 L1209.5,1183.7 L1211.1,1182.5 L1212.6,1181.3 L1214.2,1180.2 L1215.8,1179.0 L1217.4,1177.9 L1219.1,1176.7 L1220.7,1175.6 L1222.3,1174.5 L1224.0,1173.4 L1225.7,1172.4 L1227.3,1171.3 L1229.0,1170.3 L1230.7,1169.3 L1232.4,1168.3 L1234.1,1167.3 L1235.8,1166.3 L1237.5,1165.4 L1239.3,1164.4 L1241.0,1163.5 L1242.8,1162.6 L1244.5,1161.7 L1246.3,1160.9 L1248.1,1160.0 L1249.8,1159.2 L1251.6,1158.4 L1253.4,1157.6 L1255.3,1156.8 L1257.1,1156.0 L1258.9,1155.3 L1260.7,1154.5 L1262.6,1153.8 L1264.4,1153.1 L1266.3,1152.4 L1268.1,1151.8 L1270.0,1151.1 L1271.9,1150.5 L1273.8,1149.8 L1275.6,1149.2 L1277.5,1148.6 L1279.4,1148.0 L1281.3,1147.4 L1283.3,1146.9 L1285.2,1146.3 L1287.1,1145.7 L1289.0,1145.2 L1290.9,1144.7 L1292.9,1144.2 L1294.8,1143.7 L1296.8,1143.2 L1298.7,1142.7 L1300.7,1142.2 L1302.6,1141.8 L1304.6,1141.3 L1306.5,1140.8 L1308.5,1140.4 L1310.5,1140.0 L1312.4,1139.6 L1314.4,1139.1 L1316.4,1138.7 L1318.4,1138.3 L1320.4,1137.9 L1322.3,1137.6 L1324.3,1137.2 L1326.3,1136.8 L1328.3,1136.4 L1330.3,1136.1 L1332.3,1135.7 L1334.3,1135.3 L1336.3,1135.0 L1338.3,1134.6 L1340.3,1134.3 L1342.3,1134.0 L1344.3,1133.6 L1346.2,1133.3 L1348.2,1133.0 L1350.2,1132.6 L1352.2,1132.3 L1354.2,1132.0 L1356.2,1131.7 L1358.2,1131.4 L1360.2,1131.0 L1362.2,1130.7 L1364.2,1130.4 L1366.2,1130.1 L1368.2,1129.8 L1370.2,1129.5 L1372.2,1129.2 L1374.2,1128.9 L1376.2,1128.6 L1378.2,1128.3 L1380.2,1128.1 L1382.1,1127.8 L1384.1,1127.5 L1386.1,1127.2 L1388.1,1126.9 L1390.1,1126.7 L1392.1,1126.4 L1394.1,1126.1 L1396.1,1125.8 L1398.1,1125.6 L1400.1,1125.3 L1402.1,1125.1 L1404.1,1124.8 L1406.1,1124.5 L1408.1,1124.3 L1410.0,1124.0 L1412.0,1123.8 L1414.0,1123.5 L1416.0,1123.3 L1418.0,1123.1 L1420.0,1122.8 L1422.0,1122.6 L1424.0,1122.4 L1426.0,1122.1 L1428.0,1121.9 L1430.0,1121.7 L1431.9,1121.4 L1433.9,1121.2 L1435.9,1121.0 L1437.9,1120.8 L1439.9,1120.6 L1441.9,1120.3 L1443.9,1120.1 L1445.9,1119.9 L1447.9,1119.7 L1449.9,1119.5 L1451.9,1119.3 L1453.8,1119.1 L1455.8,1118.9 L1457.8,1118.7 L1459.8,1118.5 L1461.8,1118.3 L1463.8,1118.1 L1465.8,1117.9 L1467.8,1117.7 L1469.8,1117.5 L1471.8,1117.4 L1473.7,1117.2 L1475.7,1117.0 L1477.7,1116.8 L1479.7,1116.6 L1481.7,1116.5 L1483.7,1116.3 L1485.7,1116.1 L1487.7,1116.0 L1489.7,1115.8 L1491.6,1115.6 L1493.6,1115.5 L1495.6,1115.3 L1497.6,1115.1 L1499.6,1115.0 L1501.6,1114.8 L1503.6,1114.7 L1505.6,1114.5 L1507.6,1114.4 L1509.5,1114.2 L1511.5,1114.1 L1513.5,1113.9 L1515.5,1113.8 L1517.5,1113.6 L1519.5,1113.5 L1521.5,1113.4 L1523.5,1113.2 L1525.5,1113.1 L1527.4,1113.0 L1529.4,1112.8 L1531.4,1112.7 L1533.4,1112.6 L1535.4,1112.4 L1537.4,1112.3 L1539.4,1112.2 L1541.4,1112.1 L1543.4,1111.9 L1545.3,1111.8 L1547.3,1111.7 L1549.3,1111.6 L1551.3,1111.5 L1553.3,1111.4 L1555.3,1111.3 L1557.3,1111.1 L1559.3,1111.0 L1561.3,1110.9 L1563.3,1110.8 L1565.2,1110.7 L1567.2,1110.6 L1569.2,1110.5 L1571.2,1110.4 L1573.2,1110.3 L1575.2,1110.2 L1577.2,1110.1 L1579.2,1110.0 L1581.2,1109.9 L1583.1,1109.8 L1585.1,1109.7 L1587.1,1109.6 L1589.1,1109.6 L1591.1,1109.5 L1593.1,1109.4 L1595.1,1109.3 L1597.1,1109.2 L1599.1,1109.1 L1601.1,1109.0 L1603.0,1109.0 L1605.0,1108.9 L1607.0,1108.8 L1609.0,1108.7 L1611.0,1108.6 L1613.0,1108.6 L1615.0,1108.5 L1617.0,1108.4 L1619.0,1108.4 L1621.0,1108.3 L1622.9,1108.2 L1624.9,1108.1 L1626.9,1108.1 L1628.9,1108.0 L1630.9,1107.9 L1632.9,1107.9 L1634.9,1107.8 L1636.9,1107.8 L1638.9,1107.7 L1640.9,1107.6 L1642.9,1107.6 L1644.8,1107.5 L1646.8,1107.5 L1648.8,1107.4 L1650.8,1107.3 L1652.8,1107.3 L1654.8,1107.2 L1656.8,1107.2 L1658.8,1107.1 L1660.8,1107.1 L1662.8,1107.0 L1664.8,1107.0 L1666.8,1106.9 L1668.8,1106.9 L1670.7,1106.8 L1672.7,1106.8 L1674.7,1106.7 L1676.7,1106.7 L1678.7,1106.6 L1680.7,1106.6 L1682.7,1106.5 L1684.7,1106.5 L1686.7,1106.4 L1688.7,1106.4 L1690.7,1106.4 L1692.7,1106.3 L1694.7,1106.3 L1696.7,1106.2 L1698.7,1106.2 L1700.7,1106.2 L1702.7,1106.1 L1704.6,1106.1 L1706.6,1106.1 L1708.6,1106.0 L1710.6,1106.0 L1712.6,1105.9 L1714.6,1105.9 L1716.6,1105.9 L1718.6,1105.8 L1720.6,1105.8 L1722.6,1105.8 L1724.6,1105.7 L1726.6,1105.7 L1728.6,1105.7 L1730.6,1105.6 L1732.6,1105.6 L1734.6,1105.6 L1736.6,1105.5 L1738.6,1105.5 L1740.6,1105.5 L1742.6,1105.5 L1744.6,1105.4 L1746.6,1105.4 L1748.6,1105.4 L1750.6,1105.3 L1752.6,1105.3 L1754.6,1105.3 L1756.6,1105.3 L1758.6,1105.2 L1760.6,1105.2 L1762.6,1105.2 L1764.6,1105.1 L1766.6,1105.1 L1768.6,1105.1 L1770.6,1105.1 L1772.6,1105.0 L1774.6,1105.0 L1776.6,1105.0 L1778.6,1105.0 L1780.6,1104.9 L1782.6,1104.9 L1784.6,1104.9 L1786.6,1104.9 L1788.6,1104.8 L1790.6,1104.8 L1792.6,1104.8 L1794.6,1104.7 L1796.6,1104.7 L1798.6,1104.7 L1800.6,1104.7 L1802.6,1104.6 L1804.6,1104.6 L1806.6,1104.6 L1808.6,1104.6 L1810.6,1104.5 L1812.6,1104.5 L1814.6,1104.5 L1816.6,1104.5 L1818.7,1104.4 L1820.7,1104.4 L1822.7,1104.4 L1824.7,1104.3 L1826.7,1104.3 L1828.7,1104.3 L1830.7,1104.3 L1832.7,1104.2 L1834.7,1104.2 L1836.7,1104.2 L1838.7,1104.1 L1840.7,1104.1 L1842.7,1104.1 L1844.7,1104.1 L1846.8,1104.0 L1848.8,1104.0 L1850.8,1104.0 L1852.8,1103.9 L1854.8,1103.9 L1856.8,1103.9 L1858.8,1103.8 L1860.8,1103.8 L1862.8,1103.8 L1864.9,1103.7 L1866.9,1103.7 L1868.9,1103.7 L1870.9,1103.6 L1872.9,1103.6 L1874.9,1103.6 L1876.9,1103.5 L1878.9,1103.5 L1881.0,1103.4 L1883.0,1103.4 L1885.0,1103.4 L1887.0,1103.3 L1889.0,1103.3 L1891.0,1103.2 L1893.0,1103.2 L1895.1,1103.2 L1897.1,1103.1 L1899.0,1103.0"/>
<path stroke="#ff0000" d="M300.9,1610.8 L302.8,1610.1 L304.8,1609.9 L306.8,1609.6 L308.7,1609.4 L310.7,1609.1 L312.6,1608.9 L314.6,1608.7 L316.6,1608.4 L318.5,1608.2 L320.5,1608.0 L322.5,1607.7 L324.4,1607.5 L326.4,1607.3 L328.4,1607.1 L330.4,1606.8 L332.4,1606.6 L334.3,1606.4 L336.3,1606.2 L338.3,1606.0 L340.3,1605.8 L342.3,1605.5 L344.3,1605.3 L346.3,1605.1 L348.2,1604.9 L350.2,1604.7 L352.2,1604.5 L354.2,1604.3 L356.2,1604.1 L358.2,1603.8 L360.2,1603.6 L362.2,1603.4 L364.2,1603.2 L366.2,1603.0 L368.2,1602.8 L370.2,1602.6 L372.2,1602.4 L374.2,1602.1 L376.2,1601.9 L378.2,1601.7 L380.2,1601.5 L382.2,1601.3 L384.2,1601.1 L386.2,1600.8 L388.2,1600.6 L390.2,1600.4 L392.2,1600.2 L394.2,1599.9 L396.2,1599.7 L398.2,1599.5 L400.2,1599.2 L402.2,1599.0 L404.2,1598.7 L406.2,1598.5 L408.2,1598.3 L410.2,1598.0 L412.2,1597.8 L414.2,1597.5 L416.2,1597.2 L418.2,1597.0 L420.2,1596.7 L422.2,1596.4 L424.2,1596.2 L426.2,1595.9 L428.2,1595.6 L430.2,1595.3 L432.2,1595.0 L434.1,1594.7 L436.1,1594.5 L438.1,1594.2 L440.1,1593.8 L442.1,1593.5 L444.1,1593.2 L446.1,1592.9 L448.0,1592.6 L450.0,1592.3 L452.0,1591.9 L454.0,1591.6 L455.9,1591.2 L457.9,1590.9 L459.9,1590.5 L461.9,1590.2 L463.8,1589.8 L465.8,1589.4 L467.7,1589.0 L469.7,1588.7 L471.7,1588.3 L473.6,1587.9 L475.6,1587.5 L477.5,1587.0 L479.5,1586.6 L481.4,1586.2 L483.4,1585.8 L485.3,1585.3 L487.3,1584.9 L489.2,1584.4 L491.1,1584.0 L493.1,1583.5 L495.0,1583.0 L496.9,1582.5 L498.8,1582.1 L500.8,1581.6 L502.7,1581.0 L504.6,1580.5 L506.5,1580.0 L508.4,1579.5 L510.3,1578.9 L512.2,1578.4 L514.1,1577.8 L516.0,1577.3 L517.9,1576.7 L519.8,1576.1 L521.7,1575.5 L523.6,1574.9 L525.5,1574.3 L527.3,1573.7 L529.2,1573.0 L531.1,1572.4 L533.0,1571.7 L534.8,1571.1 L536.7,1570.4 L538.5,1569.7 L540.4,1569.0 L542.2,1568.3 L544.1,1567.6 L545.9,1566.9 L547.7,1566.2 L549.6,1565.4 L551.4,1564.7 L553.2,1563.9 L555.0,1563.1 L556.8,1562.3 L558.7,1561.5 L560.5,1560.7 L562.3,1559.9 L564.0,1559.1 L565.8,1558.2 L567.6,1557.4 L569.4,1556.5 L571.2,1555.6 L573.0,1554.7 L574.7,1553.8 L576.5,1552.9 L578.2,1551.9 L580.0,1551.0 L581.7,1550.0 L583.5,1549.1 L585.2,1548.1 L586.9,1547.1 L588.7,1546.1 L590.4,1545.1 L592.1,1544.0 L593.8,1543.0 L595.5,1541.9 L597.2,1540.8 L598.9,1539.7 L600.6,1538.6 L602.3,1537.5 L603.9,1536.4 L605.6,1535.2 L607.3,1534.1 L608.9,1532.9 L610.6,1531.7 L612.2,1530.5 L613.9,1529.3 L615.5,1528.1 L617.2,1526.9 L618.8,1525.7 L620.5,1524.5 L622.1,1523.3 L623.7,1522.1 L625.4,1520.9 L627.0,1519.7 L628.7,1518.4 L630.3,1517.2 L631.9,1516.0 L633.6,1514.8 L635.2,1513.6 L636.9,1512.4 L638.5,1511.2 L640.2,1510.0 L641.8,1508.9 L643.5,1507.7 L645.1,1506.6 L646.8,1505.4 L648.5,1504.3 L650.1,1503.2 L651.8,1502.1 L653.5,1501.0 L655.2,1500.0 L656.9,1498.9 L658.6,1497.9 L660.3,1496.9 L662.0,1495.9 L663.8,1494.9 L665.5,1494.0 L667.2,1493.1 L669.0,1492.2 L670.8,1491.3 L672.5,1490.5 L674.3,1489.7 L676.1,1488.9 L677.9,1488.1 L679.7,1487.4 L681.6,1486.7 L683.4,1486.1 L685.2,1485.4 L687.1,1484.8 L689.0,1484.3 L690.9,1483.8 L692.8,1483.3 L694.7,1482.8 L696.6,1482.4 L698.6,1482.1 L700.5,1481.7 L702.5,1481.5 L704.5,1481.2 L706.5,1481.0 L708.6,1480.9 L710.6,1480.7 L712.6,1480.6 L714.7,1480.6 L716.8,1480.5 L718.8,1480.5 L720.9,1480.4 L723.0,1480.4 L725.1,1480.4 L727.2,1480.4 L729.3,1480.4 L731.3,1480.4 L733.4,1480.4 L735.5,1480.3 L737.6,1480.3 L739.6,1480.2 L741.7,1480.1 L743.8,1479.9 L745.8,1479.7 L747.8,1479.5 L749.8,1479.3 L751.8,1479.0 L753.8,1478.6 L755.8,1478.2 L757.7,1477.8 L759.6,1477.2 L761.5,1476.6 L763.4,1476.0 L765.3,1475.3 L767.1,1474.6 L769.0,1473.8 L770.8,1473.0 L772.6,1472.1 L774.3,1471.2 L776.1,1470.2 L777.8,1469.2 L779.5,1468.2 L781.2,1467.1 L782.9,1466.1 L784.5,1464.9 L786.2,1463.8 L787.8,1462.6 L789.4,1461.4 L790.9,1460.2 L792.5,1458.9 L794.0,1457.7 L795.6,1456.4 L797.1,1455.1 L798.5,1453.8 L800.0,1452.4 L801.4,1451.1 L802.9,1449.7 L804.3,1448.3 L805.7,1446.9 L807.1,1445.5 L808.4,1444.0 L809.8,1442.6 L811.1,1441.1 L812.4,1439.6 L813.7,1438.2 L815.0,1436.6 L816.2,1435.1 L817.5,1433.6 L818.7,1432.0 L819.9,1430.5 L821.2,1428.9 L822.3,1427.3 L823.5,1425.7 L824.7,1424.1 L825.8,1422.5 L827.0,1420.8 L828.1,1419.2 L829.2,1417.5 L830.3,1415.9 L831.4,1414.2 L832.5,1412.5 L833.6,1410.8 L834.6,1409.1 L835.7,1407.4 L836.7,1405.7 L837.7,1404.0 L838.7,1402.2 L839.7,1400.5 L840.7,1398.7 L841.7,1397.0 L842.7,1395.2 L843.6,1393.4 L844.6,1391.7 L845.6,1389.9 L846.5,1388.1 L847.4,1386.3 L848.3,1384.5 L849.3,1382.7 L850.2,1380.9 L851.1,1379.1 L852.0,1377.3 L852.8,1375.5 L853.7,1373.6 L854.6,1371.8 L855.5,1370.0 L856.3,1368.2 L857.2,1366.3 L858.0,1364.5 L858.9,1362.7 L859.7,1360.9 L860.6,1359.0 L861.4,1357.2 L862.3,1355.4 L863.1,1353.5 L864.0,1351.7 L864.8,1349.9 L865.7,1348.0 L866.5,1346.2 L867.3,1344.4 L868.2,1342.6 L869.0,1340.8 L869.9,1338.9 L870.8,1337.1 L871.6,1335.3 L872.5,1333.5 L873.4,1331.7 L874.2,1329.9 L875.1,1328.1 L876.0,1326.3 L876.9,1324.6 L877.8,1322.8 L878.7,1321.0 L879.6,1319.2 L880.6,1317.5 L881.5,1315.7 L882.5,1314.0 L883.4,1312.2 L884.4,1310.5 L885.4,1308.8 L886.4,1307.1 L887.4,1305.4 L888.4,1303.7 L889.4,1302.0 L890.5,1300.3 L891.6,1298.7 L892.6,1297.0 L893.7,1295.3 L894.8,1293.7 L896.0,1292.1 L897.1,1290.5 L898.3,1288.9 L899.4,1287.3 L900.6,1285.7 L901.8,1284.1 L903.1,1282.6 L904.3,1281.0 L905.6,1279.5 L906.8,1278.0 L908.1,1276.5 L909.4,1274.9 L910.7,1273.4 L912.0,1271.9 L913.3,1270.4 L914.7,1268.9 L916.0,1267.4 L917.3,1265.9 L918.6,1264.4 L920.0,1262.9 L921.3,1261.4 L922.6,1259.9 L923.9,1258.4 L925.2,1256.9 L926.5,1255.4 L927.8,1253.9 L929.1,1252.3 L930.4,1250.8 L931.6,1249.3 L932.9,1247.7 L934.1,1246.1 L935.3,1244.5 L936.5,1242.9 L937.7,1241.3 L938.8,1239.7 L940.0,1238.1 L941.1,1236.4 L942.2,1234.7 L943.2,1233.0 L944.3,1231.3 L945.3,1229.6 L946.3,1227.9 L947.3,1226.2 L948.3,1224.4 L949.2,1222.7 L950.1,1220.9 L951.0,1219.1 L951.9,1217.3 L952.8,1215.5 L953.6,1213.7 L954.4,1211.9 L955.3,1210.1 L956.0,1208.3 L956.8,1206.4 L957.6,1204.6 L958.3,1202.8 L959.0,1200.9 L959.7,1199.1 L960.4,1197.2 L961.1,1195.4 L961.8,1193.5 L962.5,1191.7 L963.1,1189.8 L963.8,1187.9 L964.4,1186.1 L965.1,1184.2 L965.7,1182.3 L966.3,1180.4 L967.0,1178.6 L967.6,1176.7 L968.2,1174.8 L968.8,1172.9 L969.5,1171.0 L970.1,1169.1 L970.7,1167.2 L971.4,1165.4 L972.0,1163.5 L972.7,1161.6 L973.4,1159.7 L974.0,1157.8 L974.7,1155.9 L975.4,1154.0 L976.1,1152.1 L976.8,1150.2 L977.6,1148.3 L978.3,1146.4 L979.1,1144.5 L979.9,1142.6 L980.7,1140.7 L981.5,1138.8 L982.4,1136.9 L983.3,1135.0 L984.2,1133.1 L985.1,1131.3 L986.0,1129.4 L987.0,1127.5 L988.0,1125.6 L989.0,1123.8 L990.1,1122.0 L991.3,1120.4 L992.6,1118.8 L993.9,1117.5 L995.3,1116.3 L996.9,1115.4 L998.6,1114.7 L1000.3,1114.3 L1001.9,1114.2 L1003.6,1114.4 L1005.1,1114.9 L1006.7,1115.7 L1008.1,1116.7 L1009.5,1117.9 L1010.9,1119.2 L1012.2,1120.7 L1013.4,1122.4 L1014.7,1124.2 L1015.8,1126.0 L1016.9,1127.9 L1018.0,1129.8 L1019.0,1131.7 L1020.0,1133.6 L1020.9,1135.6 L1021.8,1137.5 L1022.7,1139.4 L1023.5,1141.3 L1024.3,1143.2 L1025.1,1145.1 L1025.8,1147.0 L1026.5,1149.0 L1027.1,1150.9 L1027.8,1152.8 L1028.4,1154.7 L1028.9,1156.6 L1029.5,1158.5 L1030.0,1160.4 L1030.5,1162.4 L1031.0,1164.3 L1031.5,1166.2 L1032.0,1168.1 L1032.4,1170.0 L1032.8,1172.0 L1033.2,1173.9 L1033.7,1175.8 L1034.1,1177.7 L1034.4,1179.7 L1034.8,1181.6 L1035.2,1183.5 L1035.6,1185.5 L1036.0,1187.4 L1036.4,1189.3 L1036.7,1191.3 L1037.1,1193.2 L1037.5,1195.2 L1037.8,1197.1 L1038.2,1199.1 L1038.6,1201.0 L1039.0,1203.0 L1039.3,1204.9 L1039.7,1206.9 L1040.1,1208.8 L1040.4,1210.8 L1040.8,1212.8 L1041.2,1214.7 L1041.5,1216.7 L1041.9,1218.6 L1042.3,1220.6 L1042.6,1222.6 L1043.0,1224.5 L1043.4,1226.5 L1043.7,1228.5 L1044.1,1230.5 L1044.5,1232.4 L1044.8,1234.4 L1045.2,1236.4 L1045.6,1238.3 L1045.9,1240.3 L1046.3,1242.3 L1046.7,1244.2 L1047.1,1246.2 L1047.4,1248.2 L1047.8,1250.2 L1048.2,1252.1 L1048.6,1254.1 L1049.0,1256.1 L1049.3,1258.0 L1049.7,1260.0 L1050.1,1262.0 L1050.5,1264.0 L1050.9,1265.9 L1051.3,1267.9 L1051.7,1269.9 L1052.1,1271.8 L1052.5,1273.8 L1052.9,1275.8 L1053.3,1277.7 L1053.7,1279.7 L1054.1,1281.6 L1054.5,1283.6 L1054.9,1285.6 L1055.3,1287.5 L1055.7,1289.5 L1056.2,1291.4 L1056.6,1293.4 L1057.0,1295.4 L1057.4,1297.3 L1057.9,1299.3 L1058.3,1301.2 L1058.7,1303.2 L1059.2,1305.1 L1059.6,1307.1 L1060.0,1309.0 L1060.5,1311.0 L1060.9,1312.9 L1061.4,1314.9 L1061.8,1316.8 L1062.2,1318.8 L1062.7,1320.7 L1063.1,1322.7 L1063.6,1324.6 L1064.1,1326.6 L1064.5,1328.5 L1065.0,1330.5 L1065.4,1332.4 L1065.9,1334.3 L1066.4,1336.3 L1066.8,1338.2 L1067.3,1340.2 L1067.8,1342.1 L1068.3,1344.1 L1068.7,1346.0 L1069.2,1347.9 L1069.7,1349.9 L1070.2,1351.8 L1070.7,1353.7 L1071.1,1355.7 L1071.6,1357.6 L1072.1,1359.6 L1072.6,1361.5 L1073.1,1363.4 L1073.6,1365.4 L1074.1,1367.3 L1074.6,1369.2 L1075.1,1371.2 L1075.6,1373.1 L1076.1,1375.0 L1076.6,1376.9 L1077.1,1378.9 L1077.6,1380.8 L1078.2,1382.7 L1078.7,1384.7 L1079.2,1386.6 L1079.7,1388.5 L1080.2,1390.4 L1080.8,1392.4 L1081.3,1394.3 L1081.8,1396.2 L1082.3,1398.2 L1082.9,1400.1 L1083.4,1402.0 L1083.9,1403.9 L1084.5,1405.9 L1085.0,1407.8 L1085.6,1409.7 L1086.1,1411.6 L1086.6,1413.5 L1087.2,1415.5 L1087.7,1417.4 L1088.3,1419.3 L1088.8,1421.2 L1089.4,1423.2 L1089.9,1425.1 L1090.5,1427.0 L1091.1,1428.9 L1091.6,1430.8 L1092.2,1432.8 L1092.7,1434.7 L1093.3,1436.6 L1093.9,1438.5 L1094.5,1440.4 L1095.0,1442.3 L1095.6,1444.3 L1096.2,1446.2 L1096.8,1448.1 L1097.4,1450.0 L1097.9,1451.9 L1098.5,1453.8 L1099.1,1455.7 L1099.7,1457.6 L1100.3,1459.5 L1101.0,1461.4 L1101.6,1463.3 L1102.2,1465.2 L1102.8,1467.1 L1103.4,1469.0 L1104.1,1470.9 L1104.7,1472.8 L1105.4,1474.7 L1106.0,1476.6 L1106.7,1478.5 L1107.3,1480.4 L1108.0,1482.3 L1108.6,1484.2 L1109.3,1486.0 L1110.0,1487.9 L1110.7,1489.8 L1111.4,1491.7 L1112.1,1493.5 L1112.8,1495.4 L1113.5,1497.3 L1114.2,1499.1 L1115.0,1501.0 L1115.7,1502.8 L1116.5,1504.7 L1117.2,1506.5 L1118.0,1508.4 L1118.7,1510.2 L1119.5,1512.1 L1120.3,1513.9 L1121.1,1515.7 L1121.9,1517.6 L1122.7,1519.4 L1123.5,1521.2 L1124.3,1523.0 L1125.2,1524.8 L1126.0,1526.7 L1126.9,1528.5 L1127.7,1530.3 L1128.6,1532.1 L1129.5,1533.9 L1130.4,1535.7 L1131.3,1537.4 L1132.2,1539.2 L1133.1,1541.0 L1134.1,1542.8 L1135.0,1544.6 L1135.9,1546.3 L1136.9,1548.1 L1137.9,1549.8 L1138.9,1551.6 L1139.9,1553.3 L1140.9,1555.1 L1141.9,1556.8 L1142.9,1558.5 L1144.0,1560.3 L1145.0,1562.0 L1146.1,1563.7 L1147.2,1565.4 L1148.3,1567.1 L1149.4,1568.8 L1150.5,1570.5 L1151.6,1572.2 L1152.7,1573.8 L1153.9,1575.5 L1155.0,1577.2 L1156.2,1578.8 L1157.4,1580.5 L1158.5,1582.1 L1159.7,1583.7 L1160.9,1585.4 L1162.2,1587.0 L1163.4,1588.6 L1164.6,1590.2 L1165.9,1591.8 L1167.1,1593.3 L1168.4,1594.9 L1169.7,1596.5 L1171.0,1598.0 L1172.3,1599.6 L1173.6,1601.1 L1174.9,1602.6 L1176.3,1604.1 L1177.6,1605.6 L1179.0,1607.1 L1180.3,1608.6 L1181.7,1610.1 L1183.1,1611.5 L1184.5,1613.0 L1185.9,1614.4 L1187.3,1615.8 L1188.7,1617.2 L1190.1,1618.6 L1191.6,1620.0 L1193.0,1621.4 L1194.5,1622.7 L1196.0,1624.1 L1197.5,1625.4 L1199.0,1626.7 L1200.5,1628.0 L1202.0,1629.3 L1203.5,1630.6 L1205.0,1631.9 L1206.6,1633.1 L1208.1,1634.4 L1209.7,1635.6 L1211.3,1636.8 L1212.9,1638.0 L1214.4,1639.2 L1216.0,1640.3 L1217.7,1641.5 L1219.3,1642.6 L1220.9,1643.7 L1222.5,1644.8 L1224.2,1645.9 L1225.9,1647.0 L1227.5,1648.0 L1229.2,1649.1 L1230.9,1650.1 L1232.6,1651.1 L1234.3,1652.1 L1236.0,1653.0 L1237.7,1654.0 L1239.4,1654.9 L1241.2,1655.8 L1242.9,1656.7 L1244.7,1657.6 L1246.5,1658.5 L1248.2,1659.3 L1250.0,1660.1 L1251.8,1660.9 L1253.6,1661.7 L1255.4,1662.5 L1257.2,1663.3 L1259.1,1664.0 L1260.9,1664.7 L1262.7,1665.4 L1264.6,1666.1 L1266.4,1666.8 L1268.3,1667.5 L1270.2,1668.1 L1272.0,1668.8 L1273.9,1669.4 L1275.8,1670.0 L1277.7,1670.6 L1279.6,1671.2 L1281.5,1671.8 L1283.4,1672.3 L1285.3,1672.9 L1287.2,1673.4 L1289.2,1673.9 L1291.1,1674.5 L1293.0,1675.0 L1295.0,1675.5 L1296.9,1675.9 L1298.9,1676.4 L1300.8,1676.9 L1302.8,1677.3 L1304.7,1677.8 L1306.7,1678.2 L1308.7,1678.7 L1310.6,1679.1 L1312.6,1679.5 L1314.6,1679.9 L1316.6,1680.3 L1318.5,1680.7 L1320.5,1681.1 L1322.5,1681.4 L1324.5,1681.8 L1326.5,1682.2 L1328.5,1682.6 L1330.4,1682.9 L1332.4,1683.3 L1334.4,1683.6 L1336.4,1684.0 L1338.4,1684.3 L1340.4,1684.6 L1342.4,1685.0 L1344.4,1685.3 L1346.4,1685.6 L1348.4,1685.9 L1350.4,1686.3 L1352.4,1686.6 L1354.4,1686.9 L1356.4,1687.2 L1358.4,1687.5 L1360.4,1687.8 L1362.4,1688.1 L1364.4,1688.4 L1366.4,1688.7 L1368.3,1689.0 L1370.3,1689.3 L1372.3,1689.6 L1374.3,1689.9 L1376.3,1690.2 L1378.3,1690.5 L1380.3,1690.8 L1382.3,1691.1 L1384.3,1691.4 L1386.3,1691.6 L1388.3,1691.9 L1390.3,1692.2 L1392.3,1692.5 L1394.3,1692.7 L1396.2,1693.0 L1398.2,1693.3 L1400.2,1693.5 L1402.2,1693.8 L1404.2,1694.1 L1406.2,1694.3 L1408.2,1694.6 L1410.2,1694.8 L1412.2,1695.1 L1414.2,1695.3 L1416.2,1695.6 L1418.2,1695.8 L1420.1,1696.0 L1422.1,1696.3 L1424.1,1696.5 L1426.1,1696.8 L1428.1,1697.0 L1430.1,1697.2 L1432.1,1697.5 L1434.1,1697.7 L1436.1,1697.9 L1438.1,1698.1 L1440.1,1698.4 L1442.0,1698.6 L1444.0,1698.8 L1446.0,1699.0 L1448.0,1699.2 L1450.0,1699.4 L1452.0,1699.7 L1454.0,1699.9 L1456.0,1700.1 L1458.0,1700.3 L1460.0,1700.5 L1461.9,1700.7 L1463.9,1700.9 L1465.9,1701.1 L1467.9,1701.3 L1469.9,1701.5 L1471.9,1701.7 L1473.9,1701.8 L1475.9,1702.0 L1477.9,1702.2 L1479.8,1702.4 L1481.8,1702.6 L1483.8,1702.8 L1485.8,1703.0 L1487.8,1703.1 L1489.8,1703.3 L1491.8,1703.5 L1493.8,1703.7 L1495.8,1703.8 L1497.7,1704.0 L1499.7,1704.2 L1501.7,1704.3 L1503.7,1704.5 L1505.7,1704.7 L1507.7,1704.8 L1509.7,1705.0 L1511.7,1705.1 L1513.7,1705.3 L1515.6,1705.4 L1517.6,1705.6 L1519.6,1705.7 L1521.6,1705.9 L1523.6,1706.0 L1525.6,1706.2 L1527.6,1706.3 L1529.6,1706.5 L1531.6,1706.6 L1533.5,1706.8 L1535.5,1706.9 L1537.5,1707.0 L1539.5,1707.2 L1541.5,1707.3 L1543.5,1707.4 L1545.5,1707.6 L1547.5,1707.7 L1549.5,1707.8 L1551.4,1708.0 L1553.4,1708.1 L1555.4,1708.2 L1557.4,1708.3 L1559.4,1708.5 L1561.4,1708.6 L1563.4,1708.7 L1565.4,1708.8 L1567.4,1708.9 L1569.3,1709.0 L1571.3,1709.2 L1573.3,1709.3 L1575.3,1709.4 L1577.3,1709.5 L1579.3,1709.6 L1581.3,1709.7 L1583.3,1709.8 L1585.3,1709.9 L1587.2,1710.0 L1589.2,1710.1 L1591.2,1710.2 L1593.2,1710.3 L1595.2,1710.4 L1597.2,1710.5 L1599.2,1710.6 L1601.2,1710.7 L1603.2,1710.8 L1605.1,1710.9 L1607.1,1711.0 L1609.1,1711.1 L1611.1,1711.2 L1613.1,1711.3 L1615.1,1711.4 L1617.1,1711.4 L1619.1,1711.5 L1621.1,1711.6 L1623.1,1711.7 L1625.0,1711.8 L1627.0,1711.9 L1629.0,1711.9 L1631.0,1712.0 L1633.0,1712.1 L1635.0,1712.2 L1637.0,1712.3 L1639.0,1712.3 L1641.0,1712.4 L1643.0,1712.5 L1645.0,1712.5 L1646.9,1712.6 L1648.9,1712.7 L1650.9,1712.8 L1652.9,1712.8 L1654.9,1712.9 L1656.9,1713.0 L1658.9,1713.0 L1660.9,1713.1 L1662.9,1713.2 L1664.9,1713.2 L1666.9,1713.3 L1668.9,1713.3 L1670.8,1713.4 L1672.8,1713.5 L1674.8,1713.5 L1676.8,1713.6 L1678.8,1713.6 L1680.8,1713.7 L1682.8,1713.8 L1684.8,1713.8 L1686.8,1713.9 L1688.8,1713.9 L1690.8,1714.0 L1692.8,1714.0 L1694.8,1714.1 L1696.8,1714.1 L1698.8,1714.2 L1700.7,1714.2 L1702.7,1714.3 L1704.7,1714.3 L1706.7,1714.4 L1708.7,1714.4 L1710.7,1714.5 L1712.7,1714.5 L1714.7,1714.6 L1716.7,1714.6 L1718.7,1714.7 L1720.7,1714.7 L1722.7,1714.7 L1724.7,1714.8 L1726.7,1714.8 L1728.7,1714.9 L1730.7,1714.9 L1732.7,1715.0 L1734.7,1715.0 L1736.7,1715.0 L1738.7,1715.1 L1740.7,1715.1 L1742.7,1715.1 L1744.7,1715.2 L1746.7,1715.2 L1748.7,1715.3 L1750.7,1715.3 L1752.7,1715.3 L1754.7,1715.4 L1756.7,1715.4 L1758.7,1715.4 L1760.6,1715.5 L1762.6,1715.5 L1764.6,1715.5 L1766.6,1715.6 L1768.6,1715.6 L1770.6,1715.6 L1772.6,1715.7 L1774.6,1715.7 L1776.6,1715.7 L1778.6,1715.8 L1780.7,1715.8 L1782.7,1715.8 L1784.7,1715.9 L1786.7,1715.9 L1788.7,1715.9 L1790.7,1716.0 L1792.7,1716.0 L1794.7,1716.0 L1796.7,1716.1 L1798.7,1716.1 L1800.7,1716.1 L1802.7,1716.1 L1804.7,1716.2 L1806.7,1716.2 L1808.7,1716.2 L1810.7,1716.3 L1812.7,1716.3 L1814.7,1716.3 L1816.7,1716.4 L1818.7,1716.4 L1820.7,1716.4 L1822.7,1716.4 L1824.7,1716.5 L1826.7,1716.5 L1828.7,1716.5 L1830.7,1716.6 L1832.8,1716.6 L1834.8,1716.6 L1836.8,1716.6 L1838.8,1716.7 L1840.8,1716.7 L1842.8,1716.7 L1844.8,1716.8 L1846.8,1716.8 L1848.8,1716.8 L1850.8,1716.8 L1852.8,1716.9 L1854.8,1716.9 L1856.9,1716.9 L1858.9,1717.0 L1860.9,1717.0 L1862.9,1717.0 L1864.9,1717.1 L1866.9,1717.1 L1868.9,1717.1 L1870.9,1717.1 L1872.9,1717.2 L1875.0,1717.2 L1877.0,1717.2 L1879.0,1717.3 L1881.0,1717.3 L1883.0,1717.3 L1885.0,1717.4 L1887.0,1717.4 L1889.1,1717.4 L1891.1,1717.5 L1893.1,1717.5 L1895.1,1717.5 L1897.1,1717.6 L1899.0,1717.5"/>
</g>
<rect x="1620" y="1021" width="342" height="380" fill="#fff" stroke="#000" stroke-width="4" shape-rendering="crispEdges"/>
<line x1="1633.5" y1="1092.5" x2="1860.5" y2="1092.5" stroke="#ff0000" stroke-width="11" stroke-linecap="round"/>
<text transform="translate(1888.5,1127.9) scale(1,1.04)" font-size="83.3">A</text>
<line x1="1633.5" y1="1217.5" x2="1860.5" y2="1217.5" stroke="#000000" stroke-width="11" stroke-linecap="round"/>
<text transform="translate(1890.5,1252.1) scale(1,1.04)" font-size="83.3">T</text>
<line x1="1633.5" y1="1342.5" x2="1860.5" y2="1342.5" stroke="#0000ff" stroke-width="11" stroke-linecap="round"/>
<text transform="translate(1890.0,1376.7) scale(1,1.04)" font-size="83.3">R</text>
<text transform="translate(258.0,1753.8) scale(1,1.04)" font-size="83.3" text-anchor="end" letter-spacing="0.6">0.0</text>
<text transform="translate(258.0,1436.1) scale(1,1.04)" font-size="83.3" text-anchor="end" letter-spacing="0.6">0.5</text>
<text transform="translate(258.0,1117.0) scale(1,1.04)" font-size="83.3" text-anchor="end" letter-spacing="0.6">1.0</text>
<text transform="translate(301.7,1838.2) scale(1,1.04)" font-size="83.3" text-anchor="middle" letter-spacing="1.2">390</text>
<text transform="translate(700.6,1838.2) scale(1,1.04)" font-size="83.3" text-anchor="middle" letter-spacing="1.2">400</text>
<text transform="translate(1099.5,1838.2) scale(1,1.04)" font-size="83.3" text-anchor="middle" letter-spacing="1.2">410</text>
<text transform="translate(1498.5,1838.2) scale(1,1.04)" font-size="83.3" text-anchor="middle" letter-spacing="1.2">420</text>
<text transform="translate(1897.4,1838.2) scale(1,1.04)" font-size="83.3" text-anchor="middle" letter-spacing="1.2">430</text>
<text transform="translate(1100.0,1938.8)" font-size="83.3" text-anchor="middle" letter-spacing="0.9">wavelenght (nm)</text>
<text transform="translate(91.2,1385.6) rotate(-90)" font-size="83.3" text-anchor="middle" letter-spacing="0.8">energy coeff.</text>
<text transform="translate(41.0,1057.8)" font-size="100">b<tspan dx="3.5">)</tspan></text>
</svg>
</body>
</html>
